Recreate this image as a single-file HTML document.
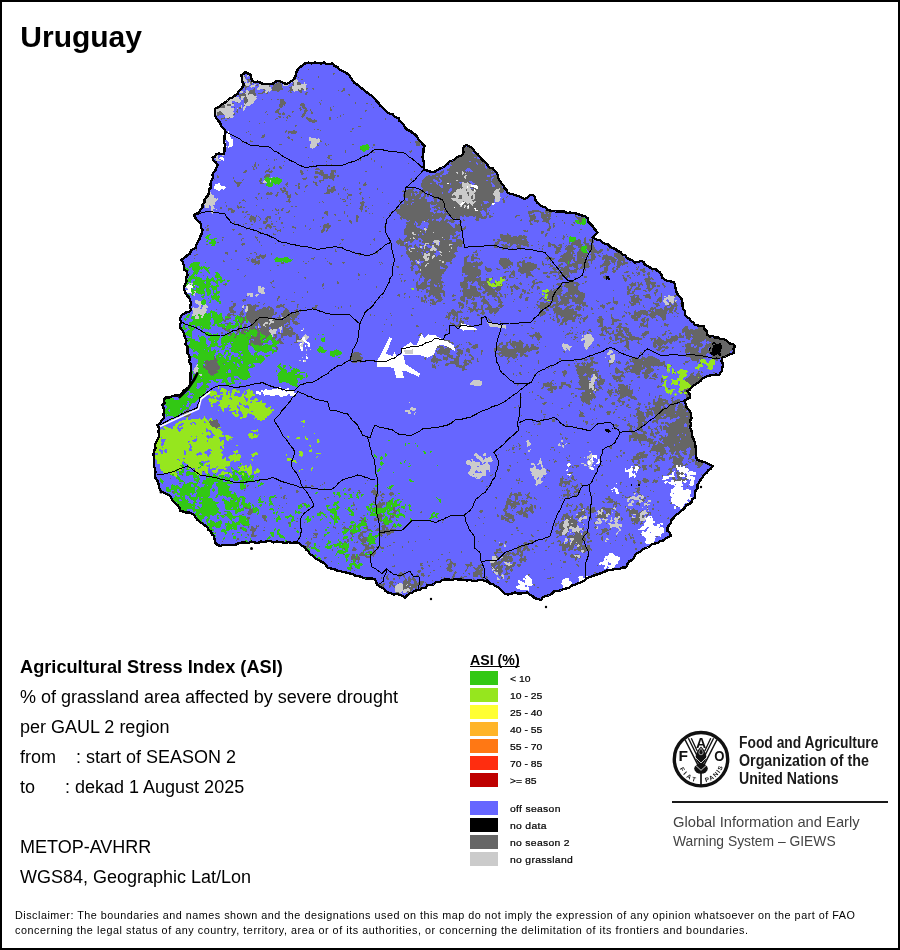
<!DOCTYPE html>
<html lang="en">
<head>
<meta charset="utf-8">
<title>Uruguay - Agricultural Stress Index (ASI)</title>
<style>
html,body{margin:0;padding:0;background:#fff;}
body{width:900px;height:950px;overflow:hidden;position:relative;font-family:"Liberation Sans",Arial,sans-serif;color:#000;}
#frame{position:absolute;left:0;top:0;width:896px;height:946px;border:2px solid #000;}
svg{position:absolute;left:0;top:0;}
.t{position:absolute;white-space:pre;line-height:1;}
.h1{left:20.3px;top:21.6px;font-size:30px;font-weight:bold;}
.ln{left:20px;font-size:18px;}
.lg{left:510px;font-size:8.5px;letter-spacing:.25px;transform-origin:0 0;transform:scaleX(1.22);color:#000;-webkit-text-stroke:.2px #000}
.lg.n{letter-spacing:0}
.sw{position:absolute;left:470px;width:28px;height:14px;}
.fao{left:739px;font-size:16.3px;font-weight:bold;color:#1a1a1a;transform-origin:0 0;transform:scaleX(.85);}
.gi{left:673px;font-size:15.5px;color:#444;transform-origin:0 0;transform:scaleX(.95);}
.dis{left:15px;font-size:10.8px;letter-spacing:.5px;}
</style>
</head>
<body>
<div id="frame"></div>
<svg width="900" height="950" viewBox="0 0 900 950">
<g shape-rendering="crispEdges">
<path d="M241 75L243.5 74L245 72L248 73.5L251 75L251 78L252.5 81L255 82L257.5 81.5L260 82.5L263 84L266.5 84L270 84L273 83.5L276 81.5L279 81L281.5 82L284 83L286 84L289 83L291.5 81L294 79L295.5 76L296 73L297.5 70L299.5 67.5L302.5 65.5L305 63.5L308.5 62.5L311.5 63.5L315 62.5L318 63L321 63.5L324 62.5L326.5 64L329.5 64L332.5 63.5L334.5 66L337.5 67L339.5 69.5L342 71L344.5 72L347 73.5L349.5 75.5L351 78L352.5 80.5L354.5 83L357 84.5L359.5 86.5L362 88.5L364.5 90.5L367 92.5L369.5 94.5L372 96L374.5 98.5L376.5 101L378.5 103L380 105.5L382.5 107.5L384.5 109.5L387 112L389.5 113.5L393 114.5L395 117L398.5 118L399.5 121L402 123L404 125.5L405.5 128L407.5 130L410.5 131L412.5 133L415 134.5L417 136.5L418.5 139.5L420.5 141.5L422.5 144L424.5 146L423.5 149L423.5 152L423 154.5L422.5 157.5L423.5 160.5L424 163.5L423.5 167L424 170L427 170.5L429.5 171.5L432.5 172L435 171.5L437.5 170L440 168.5L442.5 167.5L445 166L447.5 164L449.5 161.5L452.5 160.5L455 159L457.5 157L460 156L462.5 155L463.5 152L463 149L464 146L466.5 145L469 146L471.5 147.5L473.5 149.5L475 152L477.5 154L479.5 156.5L481 158.5L483.5 161L485.5 162.5L487.5 165L489.5 167.5L493 168.5L495 171L497 173L498 175.5L498.5 178.5L500 181L501.5 183.5L503.5 185.5L504.5 188L506.5 190L507.5 192.5L510.5 194L513.5 194.5L516.5 195.5L519.5 196.5L522 198L525 199L527.5 197.5L529.5 195.5L532.5 195L535 197L535.5 200.5L537.5 203L540 205L542.5 206.5L545 207L547 209.5L550 210.5L552.5 211L555.5 211.5L558.5 211.5L561.5 211.5L564 211.5L567 213L570 212.5L573 213L576 213.5L579 214.5L582 215.5L585 216L587.5 218L588 221.5L590.5 224L592.5 226L594 228.5L596 230.5L597.5 232.5L595 235L592.5 237.5L595 239L597.5 240L600.5 240.5L602.5 242.5L605 244L608 244.5L610 246.5L612.5 248L615.5 249L617.5 251L620.5 252L622.5 254.5L625.5 255.5L627 258L630 259.5L632.5 260.5L635 262.5L638 262L641 261L643.5 262L645 265L647.5 266L650 267.5L652.5 269L655.5 269L657.5 271L660 272.5L661.5 275L662.5 278L665 280L668 281L671 281.5L674 282.5L675 285L675.5 288L676 291L677.5 294L679.5 296.5L681.5 299L682.5 302.5L682.5 305.5L683 309L685 311.5L685 315L687 317L689.5 318.5L691 321L693.5 322.5L695 325L698 325.5L701 326L704 326L704.5 329L707 331.5L707.5 335L710 336.5L712.5 336L715 337.5L718 337.5L720.5 339L723.5 339L726 340L728 342L730 343.5L733 344L735 346L733.5 349L734 352.5L731.5 354L728 355L725.5 356.5L722.5 357.5L721.5 361L723 364L722.5 367.5L722 370.5L720.5 372.5L719 375L716 374.5L713 375L710.5 375.5L707.5 376L705 377L702.5 378.5L700.5 381L698.5 382.5L696 384L693.5 385.5L691.5 387.5L690 389.5L687.5 391L689.5 394L690 397.5L687 399L684 401L686 404L686.5 407.5L689 410L690.5 412.5L691 415L691.5 418L690 421L691 424.5L690 427.5L691.5 430.5L692 434L692.5 437L694 440L695 443L695.5 446.5L696 450L696 453.5L696 457L697.5 460L700.5 461L703.5 462L707 463L709.5 464.5L712.5 466L711 468.5L708 470.5L706.5 473L704 475L702.5 477.5L700.5 480L699 482.5L697.5 485L697.5 488L695.5 491L695 494.5L695 497.5L692.5 499L691.5 502L689.5 504L686.5 505L685 507.5L682.5 510L680 512L677.5 514L675 516L673.5 518L671.5 520L671 523L669 525L667.5 528L667.5 531L670 533L671 536L668 537L665.5 538.5L663 540.5L660 541L658 543L655 543.5L652 544L650 546L647.5 547.5L644.5 548.5L642 550L640 552L637 553L635 555L634 558L632 560L629 561.5L627.5 564L626 567.5L622.5 567.5L619.5 569L616.5 569L613 569.5L610 570L607 570.5L604 572L601.5 573L598.5 574L595.5 575L592.5 576L590 577L587 578L585 580L582.5 581.5L580 583L577.5 583.5L575 585L572 585.5L569.5 587.5L566.5 588.5L563.5 589L560.5 590.5L557.5 591L554 591.5L551.5 594L548.5 595.5L545 596L542.5 597.5L541 600L537.5 599L534.5 598L532.5 596L529.5 594.5L527.5 592.5L524.5 593L521 593.5L518 593.5L515 592.5L512 593.5L508.5 594.5L505 594L502.5 591.5L500 589L497.5 587L495 586L492.5 584L490 583.5L487.5 582L485 581L482 580L479 580L476 581L473 581L470 580L467 580.5L464 580L461 579.5L458 579.5L455 579L452 580L449 579.5L445.5 579.5L442.5 580L439.5 582L436 582L433.5 584.5L430 585L427 585.5L425.5 588L422 588L420 590L417.5 590L414.5 591L412.5 592.5L409.5 593.5L407 595.5L405 597.5L402.5 596L400 595L397 594L393.5 594.5L390.5 593L387.5 592.5L385 590.5L383 588L380 587L377.5 585L376 582L375 579L372 578.5L368.5 578.5L365.5 578.5L362.5 577.5L360 576.5L357.5 576L355 575.5L352.5 574L349.5 573.5L346 572.5L343 572L340 571L337 570.5L334 569L330.5 568.5L327.5 567.5L325.5 564.5L323 562.5L320 561L317.5 559.5L315 558L312.5 555.5L310 554L308.5 551.5L306.5 550L305 547.5L302.5 546L300 544L297.5 542.5L294.5 542.5L291.5 543L288.5 542L285.5 543L282.5 542.5L279.5 542L276.5 541.5L273.5 542.5L270.5 541L267.5 541L264.5 542L261 541.5L258 543L255 542.5L251.5 541.5L248.5 543L245 542.5L241.5 542.5L238 543.5L235 545L232 545L229 545L226 545L223 545L220 546L217 544.5L215 542.5L214.5 539L214 536L212 534.5L211 531.5L208.5 530L207.5 527.5L205 525.5L202.5 523.5L200 522L197.5 520L196 518L194.5 515.5L192.5 514L189.5 512.5L186 512.5L183 511.5L180 511L179.5 507.5L177.5 505L175 503L173 501L171.5 498.5L170 496L167 494L164 493L161 491L159 487.5L158.5 484L157.5 481L155.5 478L155 475L155.5 472L155 469L154 466.5L154 463.5L154 460.5L154 457.5L153.5 454.5L154 451L155.5 448L155 445L156 442.5L157 440L158.5 437.5L159 435L158.5 431.5L159 428L157.5 425L160 423L162 420L164 417.5L163.5 414.5L164 411L163.5 408L162.5 405L164.5 403L164 399.5L166 397.5L169 397.5L171.5 396.5L174.5 395.5L177 395.5L180 395L182 393L183.5 390.5L186 389L188.5 387.5L190 385L190 382L190.5 379L190.5 376L190.5 373L191 370L191 367L190.5 364L189 361.5L190 358.5L189 355.5L187.5 353L187.5 350L187.5 347L185.5 344L186.5 340.5L185 337.5L184 334.5L183 331L180.5 328.5L180 325L181 322L180 319L181 316L183.5 314L185.5 312.5L189 312L191 310L190 306.5L191 303.5L190 300L189 297.5L187 295.5L185.5 293L184.5 290.5L184 287.5L185 284.5L186.5 281.5L186 278L187.5 275L187 271.5L184 269.5L184 266L183 262.5L181 260L183.5 258.5L185.5 257L187.5 255L190 253.5L191 250.5L193.5 249L196 247.5L196.5 244.5L198 241.5L199.5 239L200.5 236L202 233L202.5 230L201 227.5L201 225L200 222.5L197.5 220.5L195.5 218L194 215L196.5 213.5L199 212L200.5 209.5L202.5 207.5L202.5 204.5L204.5 202.5L204.5 199.5L206 197.5L208 195.5L209 192.5L209 189.5L211 187.5L210.5 184.5L211 181L213 178L212.5 175L213.5 172.5L215.5 170L216.5 167.5L217.5 165L216 162.5L213.5 160.5L212.5 157.5L215 156.5L216 154L218.5 153.5L221.5 154L224 154L224.5 151L224.5 148L225 145L224 142L224.5 139L224.5 136L225 133L225 130L223 128L221 125.5L220 122.5L218 120.5L216.5 118.5L215 116L215 112.5L215 109L217.5 107.5L220 106L222.5 104L225 102.5L227.5 100.5L229.5 98.5L232.5 97.5L235 95.5L237.5 94L238.5 91.5L240.5 89.5L242.5 87L244 85L242.5 82L242 78.5Z" fill="#6666ff"/>
<g fill="none" stroke-width="1" transform="translate(0,0.5)">
<path stroke="#666666" d="M308 69h1M333 73h2M333 74h1M244 76h1M318 76h1M242 77h1M245 77h1M298 77h1M318 77h1M242 78h1M247 79h4M294 79h2M301 79h2M248 80h2M248 81h3M250 82h2M255 82h2M278 82h2M293 82h1M297 82h3M250 83h2M255 83h1M273 83h1M276 83h5M293 83h1M297 83h4M243 84h1M251 84h1M257 84h1M262 84h1M271 84h11M292 84h2M297 84h4M244 85h2M256 85h2M269 85h1M273 85h9M293 85h1M244 86h5M269 86h1M273 86h9M291 86h1M245 87h2M272 87h10M289 87h3M241 88h1M245 88h1M254 88h1M272 88h11M290 88h2M301 88h2M306 88h2M312 88h2M343 88h2M240 89h3M245 89h1M253 89h2M263 89h2M272 89h11M290 89h3M298 89h1M301 89h3M306 89h1M313 89h1M343 89h2M240 90h1M250 90h5M264 90h1M272 90h8M289 90h4M298 90h4M338 90h1M342 90h3M244 91h1M249 91h6M263 91h2M277 91h2M288 91h1M290 91h1M299 91h3M341 91h2M245 92h1M249 92h6M262 92h3M267 92h1M290 92h2M300 92h2M306 92h2M242 93h3M248 93h8M258 93h5M266 93h2M305 93h2M239 94h7M248 94h1M253 94h3M305 94h2M348 94h2M239 95h7M254 95h2M349 95h1M239 96h2M245 96h1M240 97h1M244 97h3M244 98h3M244 99h4M262 99h1M271 99h1M277 99h2M280 99h4M244 100h4M280 100h4M321 100h1M244 101h4M280 101h5M237 102h1M244 102h3M280 102h6M319 102h1M355 102h1M232 103h2M245 103h1M280 103h6M301 103h3M320 103h1M355 103h1M366 103h2M227 104h4M279 104h6M300 104h5M320 104h1M371 104h1M221 105h4M227 105h4M244 105h1M279 105h4M284 105h1M300 105h5M220 106h5M279 106h4M302 106h3M333 106h1M217 107h8M234 107h1M239 107h2M280 107h2M300 107h1M302 107h4M330 107h1M373 107h1M218 108h1M239 108h2M279 108h1M299 108h2M303 108h4M330 108h1M237 109h1M277 109h3M300 109h2M305 109h2M310 109h1M330 109h2M237 110h1M276 110h3M300 110h1M304 110h4M310 110h1M330 110h2M365 110h2M219 111h2M236 111h2M266 111h1M275 111h4M292 111h2M304 111h3M311 111h1M365 111h1M217 112h5M237 112h1M265 112h1M275 112h4M283 112h1M292 112h1M304 112h2M311 112h2M217 113h6M234 113h1M278 113h3M282 113h3M303 113h3M311 113h2M217 114h7M233 114h2M267 114h1M279 114h2M282 114h3M302 114h3M343 114h1M217 115h2M288 115h2M302 115h3M340 115h1M278 116h3M287 116h1M289 116h2M301 116h3M340 116h1M224 117h1M229 117h1M279 117h2M283 117h1M286 117h2M302 117h1M306 117h2M329 117h2M337 117h1M221 118h4M227 118h2M276 118h2M287 118h1M306 118h5M329 118h2M360 118h2M385 118h1M221 119h1M275 119h1M307 119h5M314 119h1M329 119h2M385 119h1M225 120h2M286 120h1M308 120h9M249 121h1M309 121h8M264 122h1M312 122h3M259 123h1M295 125h2M295 126h1M358 126h3M352 128h2M314 129h1M317 129h2M352 129h1M286 130h1M293 130h2M320 130h1M248 131h1M285 131h2M288 131h9M350 131h2M246 132h1M285 132h1M288 132h9M288 133h1M291 133h5M250 134h1M264 134h1M262 135h3M262 136h3M288 136h1M261 137h3M287 137h3M301 137h1M288 138h2M291 139h2M250 140h1M292 140h1M320 140h1M250 141h3M320 141h2M415 141h5M242 142h1M410 142h1M415 142h5M325 143h1M416 143h4M279 144h3M317 144h1M325 144h1M328 144h1M352 144h2M373 144h2M416 144h4M317 145h2M326 145h1M373 145h2M416 145h4M464 146h2M469 146h1M305 147h2M372 147h1M464 147h8M463 148h10M360 149h1M463 149h11M345 150h1M411 150h1M463 150h10M345 151h1M409 151h3M463 151h10M345 152h1M373 152h2M410 152h1M463 152h9M463 153h10M462 154h14M328 155h4M462 155h15M328 156h2M460 156h18M308 157h1M327 157h3M458 157h16M476 157h1M328 158h2M371 158h1M456 158h21M480 158h1M266 159h1M274 159h1M276 159h1M330 159h2M360 159h1M371 159h1M455 159h27M274 160h1M358 160h1M360 160h1M374 160h1M453 160h30M284 161h1M312 161h1M326 161h1M374 161h1M452 161h17M471 161h13M255 162h1M451 162h25M477 162h8M255 163h1M408 163h1M450 163h26M478 163h3M482 163h5M254 164h2M258 164h1M326 164h1M331 164h1M451 164h26M478 164h7M486 164h1M254 165h2M258 165h1M268 165h1M283 165h1M313 165h1M332 165h1M452 165h33M252 166h1M254 166h2M274 166h1M279 166h2M311 166h2M381 166h1M450 166h35M487 166h2M253 167h1M256 167h1M273 167h2M279 167h3M311 167h1M381 167h1M450 167h35M487 167h2M253 168h1M256 168h1M269 168h1M273 168h2M280 168h2M316 168h3M449 168h18M470 168h16M487 168h2M253 169h2M268 169h2M315 169h5M447 169h19M471 169h21M245 170h2M266 170h3M271 170h1M300 170h2M307 170h1M320 170h3M331 170h5M443 170h1M447 170h18M472 170h21M244 171h3M265 171h8M300 171h3M315 171h3M320 171h3M331 171h5M365 171h2M414 171h1M441 171h3M449 171h13M463 171h3M467 171h1M469 171h1M473 171h18M492 171h1M243 172h3M265 172h1M269 172h3M300 172h3M315 172h9M331 172h3M335 172h1M440 172h4M448 172h8M458 172h4M464 172h31M301 173h3M315 173h9M330 173h4M436 173h7M448 173h9M458 173h4M464 173h1M466 173h28M266 174h4M301 174h2M319 174h9M330 174h4M435 174h7M446 174h16M463 174h28M217 175h1M265 175h5M321 175h7M330 175h6M337 175h2M428 175h2M432 175h8M442 175h23M467 175h20M490 175h1M493 175h5M217 176h2M264 176h6M314 176h4M323 176h12M337 176h2M426 176h10M438 176h2M442 176h22M466 176h21M490 176h7M217 177h2M233 177h1M264 177h2M306 177h1M314 177h4M323 177h12M425 177h39M466 177h26M494 177h5M233 178h1M260 178h2M302 178h5M315 178h1M323 178h5M329 178h5M411 178h1M424 178h15M440 178h25M466 178h25M493 178h6M214 179h1M243 179h1M260 179h2M303 179h3M323 179h1M332 179h2M410 179h2M423 179h10M435 179h4M441 179h50M492 179h8M234 180h1M242 180h1M259 180h3M319 180h5M333 180h1M411 180h1M422 180h11M437 180h3M442 180h14M458 180h28M488 180h3M492 180h7M234 181h2M259 181h2M313 181h1M319 181h2M422 181h12M438 181h2M442 181h27M472 181h27M235 182h7M260 182h2M287 182h1M313 182h4M320 182h1M359 182h1M365 182h1M422 182h14M441 182h18M464 182h3M468 182h2M473 182h18M492 182h8M236 183h5M260 183h4M286 183h2M298 183h2M315 183h2M359 183h1M364 183h2M421 183h9M432 183h4M438 183h9M449 183h1M451 183h9M461 183h1M469 183h2M475 183h16M493 183h8M237 184h3M285 184h3M298 184h2M315 184h2M363 184h4M421 184h16M438 184h1M440 184h10M451 184h11M474 184h18M494 184h7M237 185h3M286 185h1M295 185h2M298 185h1M306 185h2M316 185h2M328 185h2M363 185h3M421 185h18M443 185h19M477 185h15M495 185h7M237 186h2M287 186h1M298 186h2M305 186h2M328 186h2M333 186h2M421 186h19M443 186h19M478 186h14M495 186h7M283 187h2M298 187h2M305 187h1M327 187h1M331 187h4M344 187h1M422 187h19M443 187h20M470 187h4M478 187h24M280 188h2M283 188h3M298 188h2M327 188h1M331 188h4M343 188h1M359 188h2M377 188h1M412 188h2M423 188h27M452 188h8M461 188h1M473 188h3M478 188h21M500 188h3M280 189h2M284 189h2M327 189h9M343 189h1M345 189h1M347 189h1M359 189h2M377 189h1M408 189h6M422 189h27M452 189h5M466 189h1M471 189h3M475 189h21M500 189h4M281 190h5M327 190h9M345 190h1M403 190h1M405 190h8M420 190h1M422 190h27M452 190h4M466 190h1M472 190h2M476 190h19M499 190h5M282 191h6M304 191h1M327 191h7M402 191h12M415 191h2M419 191h7M428 191h20M451 191h5M476 191h18M499 191h5M267 192h2M270 192h2M277 192h2M282 192h2M286 192h2M295 192h1M326 192h4M331 192h2M360 192h2M382 192h1M404 192h14M419 192h6M428 192h14M443 192h5M450 192h4M467 192h2M475 192h19M500 192h3M258 193h2M266 193h7M277 193h1M285 193h3M295 193h2M324 193h6M338 193h1M347 193h1M359 193h2M404 193h7M412 193h2M416 193h1M419 193h3M424 193h2M428 193h2M432 193h10M443 193h10M467 193h2M474 193h19M258 194h1M266 194h6M276 194h2M286 194h2M290 194h1M296 194h2M338 194h1M348 194h4M360 194h1M403 194h8M412 194h3M417 194h4M424 194h2M428 194h2M432 194h20M468 194h1M475 194h18M275 195h3M287 195h4M348 195h4M403 195h8M412 195h3M416 195h5M424 195h2M427 195h2M432 195h20M453 195h2M459 195h3M468 195h1M472 195h1M475 195h19M532 195h1M276 196h1M287 196h4M347 196h1M403 196h18M423 196h3M427 196h2M433 196h23M459 196h3M471 196h2M475 196h20M507 196h1M515 196h1M528 196h1M255 197h2M261 197h1M287 197h4M347 197h1M362 197h1M369 197h1M405 197h15M421 197h4M433 197h23M459 197h3M471 197h2M475 197h20M506 197h1M527 197h2M256 198h1M261 198h1M267 198h1M289 198h1M340 198h1M347 198h1M362 198h2M408 198h11M421 198h4M433 198h18M458 198h4M471 198h2M475 198h20M503 198h1M243 199h1M257 199h1M288 199h2M342 199h3M350 199h1M362 199h1M408 199h4M414 199h13M434 199h3M439 199h13M474 199h20M502 199h2M242 200h3M288 200h2M345 200h1M399 200h1M404 200h2M408 200h19M434 200h3M440 200h13M472 200h22M503 200h2M245 201h1M286 201h5M322 201h1M343 201h3M362 201h2M399 201h1M404 201h23M431 201h2M434 201h3M439 201h17M463 201h1M473 201h1M476 201h7M488 201h6M503 201h2M225 202h1M239 202h2M289 202h1M319 202h1M323 202h1M360 202h5M404 202h8M414 202h43M465 202h1M475 202h9M489 202h5M503 202h2M239 203h1M350 203h1M360 203h4M388 203h1M404 203h7M412 203h46M464 203h3M469 203h1M474 203h10M487 203h5M361 204h3M401 204h6M408 204h3M412 204h18M431 204h5M437 204h22M463 204h8M473 204h8M482 204h9M226 205h1M237 205h1M256 205h1M346 205h2M361 205h3M372 205h1M400 205h30M436 205h24M462 205h2M466 205h2M469 205h3M473 205h8M482 205h9M226 206h1M237 206h2M240 206h2M291 206h2M295 206h2M360 206h3M365 206h2M400 206h30M434 206h26M462 206h2M466 206h1M469 206h21M527 206h1M220 207h2M237 207h5M243 207h2M360 207h3M365 207h1M400 207h30M432 207h6M440 207h4M445 207h9M455 207h9M465 207h2M469 207h20M220 208h2M228 208h4M238 208h1M275 208h1M282 208h2M359 208h4M368 208h1M400 208h31M434 208h1M436 208h3M440 208h4M445 208h22M469 208h5M476 208h6M483 208h4M546 208h1M228 209h5M262 209h2M275 209h2M278 209h1M281 209h2M360 209h3M396 209h35M437 209h38M476 209h11M228 210h1M231 210h4M263 210h1M272 210h1M276 210h3M281 210h2M289 210h1M361 210h1M365 210h2M395 210h35M434 210h4M440 210h3M444 210h31M478 210h4M484 210h3M489 210h1M532 210h7M545 210h3M231 211h4M242 211h2M246 211h2M288 211h2M325 211h3M344 211h1M361 211h1M365 211h2M396 211h34M434 211h3M444 211h2M447 211h33M485 211h2M528 211h13M545 211h5M231 212h3M242 212h2M245 212h2M278 212h1M286 212h3M324 212h4M344 212h1M397 212h36M436 212h1M441 212h1M445 212h1M447 212h34M486 212h1M488 212h1M528 212h6M540 212h4M545 212h7M278 213h1M324 213h4M344 213h1M369 213h1M372 213h1M389 213h1M397 213h37M435 213h8M444 213h37M486 213h3M493 213h1M528 213h4M541 213h3M546 213h2M549 213h2M247 214h3M275 214h2M326 214h2M334 214h2M399 214h83M486 214h3M529 214h1M533 214h2M541 214h10M251 215h1M256 215h1M327 215h1M335 215h1M347 215h1M356 215h2M400 215h32M433 215h13M448 215h16M465 215h17M486 215h1M489 215h2M516 215h4M529 215h6M541 215h10M575 215h1M245 216h1M250 216h4M256 216h1M258 216h1M267 216h4M294 216h1M347 216h1M356 216h3M401 216h45M450 216h10M462 216h2M466 216h3M473 216h2M476 216h7M484 216h3M489 216h4M515 216h2M529 216h7M541 216h10M556 216h1M575 216h2M244 217h1M250 217h6M259 217h1M266 217h5M279 217h2M322 217h2M356 217h3M383 217h1M400 217h40M441 217h4M452 217h8M476 217h11M489 217h2M515 217h1M530 217h6M541 217h6M548 217h2M576 217h8M249 218h7M260 218h1M265 218h3M269 218h2M279 218h1M322 218h1M356 218h2M400 218h2M403 218h36M442 218h3M452 218h3M456 218h4M476 218h3M481 218h5M530 218h6M542 218h9M577 218h6M585 218h1M249 219h7M260 219h1M265 219h3M279 219h1M313 219h1M356 219h2M394 219h1M401 219h1M406 219h22M429 219h3M434 219h2M442 219h2M446 219h2M450 219h4M457 219h2M463 219h1M475 219h4M521 219h1M530 219h5M543 219h7M578 219h4M250 220h2M253 220h3M259 220h1M266 220h2M313 220h1M338 220h3M349 220h2M356 220h2M407 220h2M410 220h17M428 220h4M433 220h3M441 220h3M445 220h9M463 220h2M476 220h3M520 220h2M529 220h4M534 220h5M543 220h6M562 220h1M579 220h3M234 221h1M250 221h2M254 221h2M263 221h5M271 221h1M276 221h1M349 221h3M356 221h2M409 221h6M416 221h6M425 221h14M440 221h8M449 221h6M459 221h3M529 221h2M534 221h5M542 221h7M579 221h3M234 222h1M254 222h1M263 222h4M281 222h2M350 222h2M406 222h9M417 222h5M428 222h19M451 222h3M460 222h2M530 222h1M537 222h1M546 222h3M564 222h1M573 222h2M579 222h2M234 223h1M245 223h2M263 223h3M271 223h2M281 223h2M327 223h2M351 223h1M406 223h8M415 223h1M418 223h3M429 223h20M530 223h2M548 223h2M553 223h2M564 223h1M574 223h1M243 224h1M251 224h2M267 224h3M271 224h2M324 224h5M407 224h7M415 224h1M418 224h3M429 224h21M455 224h2M458 224h2M530 224h3M549 224h1M553 224h1M571 224h2M207 225h2M266 225h5M305 225h1M323 225h8M406 225h10M417 225h3M428 225h23M455 225h6M549 225h1M553 225h2M572 225h2M207 226h1M266 226h6M273 226h3M292 226h2M305 226h1M320 226h1M323 226h8M384 226h2M406 226h10M428 226h24M455 226h6M465 226h1M549 226h2M553 226h2M205 227h1M249 227h2M265 227h2M269 227h3M283 227h1M292 227h4M323 227h7M384 227h2M406 227h11M424 227h1M428 227h25M455 227h6M464 227h2M549 227h2M553 227h1M207 228h2M246 228h1M249 228h1M259 228h3M265 228h2M270 228h1M275 228h1M295 228h1M310 228h1M323 228h2M327 228h2M405 228h15M427 228h39M548 228h3M206 229h3M232 229h3M246 229h1M261 229h1M275 229h2M280 229h1M309 229h1M322 229h3M327 229h1M404 229h18M427 229h38M547 229h3M580 229h2M206 230h3M233 230h1M277 230h4M321 230h4M326 230h2M404 230h21M426 230h34M523 230h3M527 230h1M547 230h3M277 231h1M280 231h1M321 231h3M326 231h1M379 231h2M404 231h16M421 231h4M426 231h30M458 231h3M524 231h4M541 231h3M258 232h1M262 232h1M293 232h1M321 232h2M404 232h8M414 232h11M426 232h7M434 232h21M541 232h3M579 232h1M239 233h2M258 233h1M273 233h1M404 233h8M414 233h8M423 233h33M507 233h1M541 233h2M546 233h2M238 234h4M273 234h3M404 234h9M416 234h2M419 234h3M424 234h32M459 234h1M500 234h3M507 234h2M545 234h2M566 234h1M407 235h11M419 235h31M452 235h2M457 235h3M500 235h11M519 235h3M523 235h2M545 235h2M563 235h1M255 236h1M407 236h43M453 236h1M456 236h2M500 236h11M513 236h4M518 236h9M545 236h1M563 236h2M567 236h1M222 237h2M255 237h3M406 237h7M414 237h28M443 237h7M452 237h6M500 237h27M555 237h1M563 237h2M585 237h1M242 238h2M256 238h1M374 238h1M399 238h1M405 238h5M411 238h2M415 238h3M421 238h29M452 238h5M501 238h25M562 238h2M584 238h2M222 239h1M241 239h1M257 239h1M341 239h3M373 239h2M399 239h2M404 239h11M416 239h2M422 239h22M445 239h4M456 239h5M493 239h2M497 239h3M501 239h21M524 239h3M563 239h1M578 239h2M584 239h2M589 239h3M222 240h1M241 240h1M257 240h1M342 240h1M374 240h1M397 240h5M404 240h10M419 240h2M423 240h11M439 240h13M456 240h6M493 240h2M498 240h29M575 240h6M584 240h2M589 240h5M259 241h1M396 241h12M410 241h3M419 241h2M422 241h11M440 241h12M456 241h8M497 241h3M503 241h25M538 241h1M574 241h7M584 241h2M590 241h4M217 242h2M259 242h1M396 242h8M410 242h2M422 242h11M440 242h24M495 242h4M507 242h22M548 242h2M569 242h1M572 242h9M583 242h3M591 242h3M242 243h3M275 243h1M340 243h1M397 243h7M406 243h2M424 243h1M429 243h3M434 243h2M440 243h24M495 243h4M507 243h2M510 243h18M548 243h3M563 243h1M569 243h1M571 243h10M584 243h5M591 243h2M206 244h2M241 244h4M339 244h1M370 244h1M398 244h1M400 244h4M405 244h3M415 244h1M419 244h2M426 244h2M429 244h7M440 244h9M453 244h9M494 244h4M501 244h3M505 244h2M510 244h3M516 244h2M519 244h10M538 244h1M548 244h7M559 244h3M571 244h12M585 244h4M591 244h2M242 245h1M261 245h1M283 245h2M400 245h8M409 245h3M414 245h2M419 245h5M430 245h2M434 245h4M439 245h10M450 245h12M494 245h2M502 245h6M510 245h2M517 245h4M523 245h6M531 245h2M543 245h1M548 245h3M552 245h4M558 245h4M566 245h1M568 245h5M576 245h6M586 245h8M405 246h7M414 246h3M425 246h2M434 246h24M459 246h3M494 246h3M503 246h8M516 246h5M527 246h2M542 246h1M548 246h3M554 246h3M560 246h2M565 246h1M567 246h6M578 246h4M587 246h7M406 247h3M414 247h4M419 247h1M423 247h1M425 247h3M435 247h16M452 247h5M494 247h4M502 247h6M509 247h1M517 247h4M554 247h8M566 247h8M578 247h3M587 247h8M611 247h1M406 248h2M410 248h1M415 248h6M423 248h1M425 248h6M437 248h14M452 248h5M502 248h4M512 248h1M519 248h2M539 248h1M542 248h1M556 248h5M565 248h11M580 248h1M587 248h8M607 248h1M609 248h2M196 249h1M335 249h1M406 249h2M410 249h20M437 249h20M502 249h2M520 249h1M542 249h1M556 249h5M565 249h10M579 249h2M587 249h9M600 249h3M607 249h2M196 250h1M235 250h2M335 250h1M377 250h1M407 250h2M410 250h13M424 250h6M433 250h1M437 250h20M476 250h1M480 250h1M556 250h4M567 250h6M579 250h2M588 250h9M599 250h4M607 250h2M235 251h2M335 251h2M353 251h1M376 251h2M406 251h4M412 251h5M418 251h8M429 251h7M441 251h8M450 251h8M475 251h2M555 251h6M567 251h7M578 251h4M591 251h11M225 252h3M254 252h2M376 252h2M406 252h15M423 252h3M428 252h8M442 252h13M473 252h4M555 252h4M566 252h5M572 252h2M577 252h6M591 252h10M617 252h4M225 253h3M250 253h2M256 253h1M271 253h1M358 253h2M375 253h1M377 253h1M406 253h16M423 253h1M426 253h2M430 253h4M440 253h14M477 253h1M555 253h3M564 253h7M572 253h3M577 253h11M591 253h3M597 253h2M602 253h1M614 253h8M196 254h2M227 254h1M256 254h1M260 254h1M265 254h1M271 254h1M358 254h2M407 254h15M423 254h1M430 254h5M441 254h14M472 254h2M475 254h3M563 254h10M577 254h10M590 254h5M606 254h1M614 254h7M194 255h2M259 255h7M359 255h1M401 255h2M408 255h16M430 255h3M435 255h1M438 255h3M442 255h14M468 255h1M472 255h2M476 255h2M561 255h12M574 255h2M577 255h11M591 255h4M598 255h2M603 255h5M614 255h8M623 255h1M256 256h10M401 256h1M408 256h15M427 256h5M435 256h1M437 256h19M466 256h3M471 256h3M530 256h1M547 256h1M560 256h13M577 256h12M591 256h5M599 256h2M603 256h9M614 256h9M249 257h1M256 257h4M261 257h4M314 257h1M409 257h14M427 257h1M429 257h3M434 257h21M464 257h4M471 257h6M525 257h2M529 257h3M546 257h6M562 257h13M577 257h5M583 257h3M588 257h1M591 257h5M602 257h12M616 257h8M194 258h1M246 258h2M252 258h1M255 258h1M257 258h3M262 258h2M311 258h3M325 258h1M410 258h14M429 258h3M433 258h20M464 258h3M471 258h9M500 258h7M508 258h1M522 258h1M529 258h2M545 258h10M560 258h15M577 258h8M591 258h4M602 258h13M617 258h8M231 259h1M248 259h1M251 259h5M313 259h1M410 259h9M420 259h5M429 259h23M464 259h3M471 259h3M479 259h1M500 259h9M547 259h2M550 259h4M559 259h13M573 259h2M577 259h8M588 259h7M602 259h2M605 259h12M618 259h7M223 260h1M247 260h2M251 260h5M258 260h2M410 260h1M412 260h3M417 260h2M420 260h5M428 260h11M441 260h11M464 260h3M471 260h3M499 260h11M523 260h2M547 260h1M550 260h1M558 260h13M573 260h2M577 260h16M605 260h4M611 260h5M618 260h7M223 261h2M251 261h9M303 261h1M308 261h1M327 261h1M413 261h2M424 261h18M444 261h7M464 261h3M476 261h1M481 261h1M499 261h12M519 261h2M522 261h3M542 261h1M550 261h1M558 261h10M569 261h2M574 261h14M591 261h1M604 261h6M611 261h5M617 261h4M623 261h2M252 262h8M282 262h2M329 262h1M342 262h3M379 262h1M381 262h1M411 262h5M423 262h19M444 262h2M450 262h2M464 262h7M473 262h5M479 262h4M499 262h14M517 262h8M527 262h4M542 262h1M565 262h3M569 262h1M575 262h13M591 262h1M604 262h6M612 262h3M617 262h5M623 262h5M630 262h1M255 263h5M281 263h3M305 263h2M329 263h3M343 263h1M382 263h1M411 263h5M421 263h6M429 263h17M450 263h2M464 263h19M499 263h14M517 263h2M522 263h12M542 263h2M550 263h1M561 263h2M566 263h2M569 263h1M572 263h17M591 263h1M603 263h8M614 263h1M617 263h11M254 264h2M258 264h1M330 264h2M380 264h1M391 264h1M411 264h8M421 264h5M427 264h18M464 264h18M500 264h13M517 264h2M522 264h15M542 264h2M545 264h2M548 264h3M559 264h4M567 264h11M582 264h7M602 264h8M614 264h1M617 264h8M636 264h1M643 264h1M277 265h2M412 265h2M417 265h3M421 265h4M427 265h20M464 265h17M501 265h9M512 265h1M517 265h3M522 265h15M543 265h1M550 265h3M558 265h3M567 265h11M582 265h7M600 265h9M617 265h4M622 265h1M396 266h3M411 266h2M418 266h7M426 266h14M441 266h7M463 266h10M475 266h3M485 266h1M502 266h6M510 266h1M517 266h4M522 266h15M550 266h3M558 266h2M565 266h7M573 266h5M581 266h9M600 266h3M606 266h2M616 266h4M627 266h1M638 266h1M397 267h2M410 267h3M418 267h22M443 267h5M462 267h16M485 267h2M503 267h5M510 267h1M519 267h18M549 267h1M553 267h2M559 267h4M564 267h5M574 267h4M580 267h9M595 267h1M600 267h1M604 267h4M613 267h2M617 267h3M636 267h1M638 267h1M411 268h3M419 268h21M445 268h2M462 268h16M485 268h6M496 268h2M503 268h3M508 268h1M519 268h17M537 268h3M552 268h4M561 268h8M576 268h3M580 268h3M595 268h1M604 268h4M612 268h2M616 268h2M637 268h1M643 268h2M237 269h2M411 269h2M419 269h1M421 269h25M462 269h18M485 269h7M497 269h3M518 269h16M538 269h2M553 269h5M560 269h10M574 269h4M579 269h1M584 269h2M604 269h4M612 269h2M616 269h2M636 269h2M640 269h5M652 269h2M270 270h1M411 270h2M418 270h2M421 270h25M462 270h19M486 270h6M513 270h1M518 270h15M554 270h2M559 270h18M585 270h1M604 270h4M613 270h3M640 270h5M652 270h1M415 271h30M462 271h19M487 271h4M505 271h4M510 271h1M512 271h3M518 271h12M550 271h7M558 271h3M563 271h14M602 271h5M612 271h4M626 271h3M642 271h4M652 271h1M298 272h1M415 272h29M462 272h19M504 272h2M511 272h4M520 272h11M543 272h5M550 272h11M562 272h7M570 272h7M600 272h7M613 272h2M624 272h4M632 272h1M636 272h1M638 272h2M643 272h2M648 272h2M358 273h1M415 273h3M421 273h23M465 273h16M511 273h4M521 273h3M526 273h5M543 273h4M549 273h3M558 273h2M562 273h7M571 273h1M600 273h4M632 273h2M637 273h3M647 273h3M358 274h2M365 274h1M399 274h1M401 274h2M416 274h1M421 274h21M462 274h1M465 274h16M486 274h1M510 274h5M526 274h6M558 274h1M561 274h8M600 274h1M638 274h2M643 274h2M647 274h3M203 275h1M245 275h1M358 275h2M420 275h22M462 275h1M468 275h12M509 275h2M513 275h2M520 275h1M526 275h7M547 275h1M553 275h3M559 275h7M567 275h3M605 275h1M622 275h2M627 275h3M634 275h1M637 275h1M643 275h2M648 275h1M244 276h1M420 276h2M423 276h18M467 276h10M478 276h1M503 276h3M509 276h2M514 276h1M526 276h2M532 276h2M546 276h4M555 276h1M559 276h4M566 276h4M584 276h3M603 276h3M623 276h1M627 276h2M648 276h2M215 277h1M304 277h2M420 277h2M424 277h18M464 277h12M479 277h2M492 277h1M502 277h4M509 277h5M526 277h2M547 277h3M559 277h3M566 277h2M569 277h1M574 277h1M584 277h3M603 277h3M623 277h2M629 277h2M648 277h2M651 277h1M305 278h1M400 278h1M419 278h1M425 278h17M464 278h17M486 278h3M492 278h1M502 278h2M505 278h1M516 278h2M558 278h5M604 278h2M623 278h4M630 278h1M645 278h8M358 279h1M413 279h1M419 279h1M424 279h5M431 279h10M464 279h17M486 279h3M507 279h1M535 279h2M556 279h2M560 279h3M624 279h3M644 279h7M652 279h2M663 279h1M273 280h1M401 280h1M404 280h2M413 280h1M419 280h1M424 280h4M431 280h10M464 280h17M486 280h3M506 280h2M533 280h2M624 280h3M645 280h5M272 281h2M337 281h1M401 281h1M404 281h1M417 281h1M424 281h3M430 281h13M463 281h5M469 281h2M472 281h3M477 281h10M489 281h1M497 281h1M532 281h3M539 281h3M570 281h4M585 281h2M625 281h1M645 281h6M270 282h2M337 282h2M416 282h2M422 282h5M428 282h16M460 282h7M472 282h2M478 282h9M520 282h1M532 282h3M536 282h7M562 282h4M568 282h10M585 282h1M632 282h1M635 282h1M637 282h2M641 282h1M646 282h10M271 283h1M323 283h1M337 283h2M416 283h2M421 283h6M430 283h8M439 283h3M460 283h8M471 283h2M478 283h10M494 283h2M506 283h1M519 283h3M533 283h5M557 283h6M565 283h14M582 283h2M631 283h5M638 283h1M640 283h2M646 283h10M662 283h2M223 284h3M322 284h2M416 284h2M420 284h7M430 284h4M435 284h7M460 284h8M478 284h5M484 284h4M495 284h1M500 284h1M502 284h1M508 284h1M514 284h1M520 284h2M528 284h1M533 284h2M556 284h6M565 284h9M576 284h4M629 284h7M638 284h5M646 284h4M651 284h4M662 284h2M225 285h1M322 285h2M416 285h18M437 285h2M440 285h3M444 285h1M460 285h8M470 285h2M479 285h10M502 285h1M513 285h3M532 285h2M553 285h1M558 285h4M564 285h10M576 285h3M630 285h6M638 285h2M642 285h1M647 285h3M652 285h4M657 285h3M663 285h2M272 286h1M322 286h1M376 286h1M416 286h19M437 286h2M440 286h3M461 286h7M470 286h6M480 286h1M482 286h9M497 286h5M507 286h1M510 286h8M531 286h3M537 286h2M553 286h1M561 286h2M564 286h14M627 286h2M631 286h2M638 286h2M647 286h3M652 286h4M657 286h3M664 286h2M273 287h2M376 287h1M416 287h11M430 287h13M461 287h7M470 287h6M480 287h1M483 287h9M496 287h5M507 287h1M510 287h3M514 287h5M531 287h2M537 287h3M561 287h1M566 287h12M627 287h2M631 287h1M636 287h3M647 287h3M652 287h2M664 287h1M323 288h1M417 288h9M430 288h12M463 288h4M470 288h7M478 288h3M484 288h9M495 288h6M511 288h1M515 288h5M532 288h1M537 288h3M553 288h1M556 288h6M568 288h10M627 288h2M630 288h2M635 288h6M646 288h7M417 289h2M422 289h2M426 289h2M430 289h12M463 289h14M478 289h4M485 289h16M511 289h2M516 289h2M522 289h2M529 289h1M537 289h1M551 289h1M554 289h8M568 289h10M627 289h4M634 289h7M648 289h4M656 289h2M417 290h2M426 290h18M460 290h1M462 290h15M485 290h10M496 290h4M511 290h2M522 290h4M529 290h1M550 290h2M553 290h10M568 290h11M613 290h1M628 290h3M634 290h1M643 290h3M648 290h3M655 290h3M307 291h1M421 291h1M426 291h19M460 291h1M462 291h16M483 291h12M497 291h1M511 291h2M522 291h4M549 291h13M568 291h12M627 291h3M632 291h3M645 291h2M649 291h1M656 291h2M294 292h1M307 292h1M426 292h2M429 292h16M463 292h17M482 292h4M488 292h9M499 292h1M524 292h2M527 292h2M531 292h2M547 292h14M566 292h17M627 292h3M632 292h2M654 292h3M404 293h2M429 293h11M443 293h2M463 293h18M483 293h2M487 293h11M499 293h2M511 293h2M521 293h1M524 293h1M527 293h3M539 293h1M546 293h16M565 293h20M627 293h7M654 293h2M661 293h1M398 294h2M404 294h1M429 294h12M443 294h2M453 294h1M463 294h18M487 294h10M500 294h2M504 294h2M507 294h1M511 294h1M520 294h3M548 294h13M563 294h12M576 294h9M627 294h2M634 294h1M646 294h4M655 294h1M661 294h1M397 295h3M424 295h2M428 295h3M433 295h8M443 295h2M452 295h4M463 295h18M487 295h2M492 295h5M500 295h2M505 295h1M520 295h2M548 295h9M559 295h2M563 295h7M572 295h2M578 295h7M633 295h6M643 295h7M655 295h1M661 295h1M674 295h3M246 296h1M278 296h2M399 296h1M409 296h1M416 296h1M418 296h1M424 296h2M428 296h2M433 296h1M435 296h6M444 296h1M452 296h2M461 296h11M473 296h6M480 296h5M492 296h7M500 296h3M505 296h1M519 296h3M548 296h9M560 296h5M567 296h4M572 296h3M578 296h7M630 296h5M637 296h2M645 296h6M661 296h1M674 296h2M278 297h2M302 297h1M382 297h1M404 297h1M409 297h1M418 297h1M421 297h2M424 297h3M435 297h7M460 297h5M467 297h5M473 297h1M480 297h2M483 297h2M494 297h1M497 297h3M505 297h1M519 297h3M526 297h3M541 297h2M548 297h10M560 297h16M577 297h8M613 297h1M631 297h4M636 297h3M645 297h6M659 297h3M679 297h2M277 298h2M421 298h2M425 298h2M436 298h6M460 298h5M467 298h4M472 298h3M483 298h2M498 298h2M520 298h1M525 298h3M540 298h2M543 298h1M547 298h11M560 298h24M613 298h1M631 298h9M649 298h2M658 298h4M243 299h3M277 299h1M286 299h1M421 299h2M425 299h1M430 299h4M438 299h5M453 299h3M460 299h5M471 299h4M482 299h4M488 299h1M494 299h2M498 299h3M514 299h1M525 299h3M539 299h2M544 299h4M549 299h9M561 299h8M572 299h12M613 299h1M631 299h11M657 299h5M242 300h4M277 300h1M421 300h5M428 300h1M430 300h4M437 300h5M452 300h3M461 300h4M466 300h2M473 300h1M481 300h6M495 300h2M498 300h3M525 300h3M544 300h3M552 300h6M561 300h8M572 300h11M596 300h1M613 300h1M631 300h8M640 300h2M657 300h5M231 301h2M243 301h1M291 301h4M371 301h1M421 301h4M426 301h1M432 301h3M436 301h5M463 301h2M466 301h2M481 301h7M498 301h4M513 301h1M537 301h2M548 301h3M552 301h7M560 301h9M572 301h11M597 301h2M613 301h5M629 301h1M631 301h8M656 301h2M659 301h3M674 301h1M258 302h2M424 302h1M426 302h1M430 302h1M432 302h5M458 302h3M466 302h2M472 302h5M483 302h6M498 302h5M537 302h1M540 302h4M546 302h2M550 302h3M556 302h2M559 302h11M575 302h11M608 302h3M613 302h5M629 302h2M633 302h7M653 302h1M660 302h1M669 302h2M674 302h2M233 303h3M264 303h1M430 303h6M443 303h2M458 303h5M466 303h2M471 303h6M483 303h6M500 303h2M540 303h12M556 303h13M575 303h11M606 303h4M614 303h4M630 303h6M639 303h1M653 303h6M669 303h2M674 303h3M680 303h1M233 304h3M247 304h4M255 304h1M263 304h1M280 304h2M283 304h2M297 304h2M432 304h4M459 304h5M466 304h1M473 304h4M483 304h1M487 304h3M499 304h3M536 304h2M540 304h11M553 304h10M564 304h3M579 304h2M582 304h4M602 304h1M607 304h1M616 304h1M624 304h1M631 304h5M639 304h1M655 304h4M669 304h3M674 304h3M233 305h3M244 305h2M247 305h5M253 305h6M277 305h7M297 305h1M315 305h3M350 305h1M430 305h1M459 305h5M474 305h3M481 305h2M488 305h3M498 305h6M537 305h14M552 305h7M564 305h3M570 305h4M577 305h1M579 305h1M582 305h6M600 305h5M624 305h1M631 305h3M643 305h1M656 305h4M667 305h3M671 305h7M231 306h4M248 306h11M268 306h2M276 306h8M297 306h1M315 306h2M335 306h1M341 306h1M350 306h1M459 306h1M462 306h2M466 306h1M473 306h4M481 306h2M488 306h4M498 306h5M538 306h16M555 306h3M567 306h5M576 306h5M583 306h1M586 306h2M600 306h5M628 306h1M643 306h1M656 306h2M665 306h2M671 306h6M229 307h5M248 307h8M263 307h3M267 307h5M276 307h4M283 307h2M297 307h1M305 307h1M312 307h5M338 307h1M341 307h1M459 307h1M461 307h3M468 307h2M473 307h3M481 307h2M487 307h5M496 307h2M500 307h2M527 307h1M534 307h1M538 307h10M550 307h3M555 307h5M566 307h5M576 307h6M591 307h1M602 307h3M612 307h2M628 307h1M644 307h1M651 307h2M654 307h2M664 307h3M670 307h4M676 307h1M229 308h4M242 308h1M248 308h8M262 308h7M270 308h3M285 308h2M312 308h4M338 308h1M412 308h2M461 308h2M469 308h3M473 308h3M478 308h1M481 308h2M485 308h15M537 308h1M540 308h4M545 308h3M553 308h9M565 308h4M572 308h1M575 308h6M583 308h1M591 308h2M598 308h1M603 308h1M610 308h4M650 308h6M660 308h2M664 308h10M675 308h2M216 309h1M229 309h4M243 309h1M248 309h7M259 309h10M270 309h4M285 309h3M296 309h2M300 309h1M452 309h2M468 309h15M485 309h14M540 309h1M546 309h3M553 309h9M564 309h10M575 309h6M583 309h1M591 309h2M610 309h4M650 309h4M655 309h8M664 309h9M675 309h2M229 310h5M242 310h1M248 310h7M257 310h17M284 310h5M294 310h4M300 310h1M451 310h4M460 310h1M470 310h4M475 310h3M482 310h2M489 310h10M518 310h3M540 310h3M546 310h3M553 310h21M578 310h2M583 310h1M635 310h1M640 310h6M648 310h3M652 310h1M655 310h13M669 310h4M674 310h2M230 311h6M241 311h2M247 311h27M283 311h6M295 311h3M300 311h1M451 311h5M457 311h5M467 311h1M470 311h3M476 311h2M482 311h2M489 311h9M519 311h2M540 311h5M554 311h23M606 311h1M624 311h1M634 311h2M638 311h10M649 311h5M655 311h12M669 311h3M674 311h2M230 312h6M240 312h3M247 312h27M275 312h2M283 312h7M293 312h1M295 312h4M447 312h1M449 312h14M470 312h1M481 312h4M489 312h4M494 312h3M540 312h6M554 312h23M625 312h2M628 312h2M634 312h14M651 312h16M669 312h4M676 312h1M228 313h2M233 313h1M240 313h4M246 313h28M275 313h2M281 313h13M295 313h5M390 313h1M448 313h10M480 313h5M490 313h2M494 313h2M539 313h7M554 313h1M556 313h21M592 313h2M626 313h1M629 313h2M634 313h14M650 313h17M668 313h1M672 313h1M677 313h2M227 314h7M239 314h5M246 314h30M281 314h18M370 314h1M411 314h1M448 314h3M452 314h6M477 314h2M482 314h2M539 314h6M549 314h2M556 314h25M611 314h1M629 314h1M634 314h8M643 314h23M227 315h4M233 315h2M240 315h1M242 315h1M246 315h27M279 315h1M282 315h16M370 315h1M374 315h1M391 315h1M411 315h2M446 315h1M448 315h3M453 315h5M477 315h3M494 315h1M540 315h3M556 315h2M560 315h13M575 315h7M587 315h1M611 315h1M623 315h2M631 315h10M646 315h2M649 315h7M658 315h8M228 316h2M240 316h2M246 316h26M279 316h1M282 316h15M446 316h4M454 316h1M456 316h2M461 316h1M540 316h1M553 316h1M556 316h2M561 316h12M574 316h3M578 316h2M586 316h2M599 316h3M611 316h1M622 316h3M631 316h5M637 316h4M650 316h5M660 316h6M674 316h1M677 316h1M240 317h1M242 317h3M246 317h26M277 317h4M283 317h7M291 317h6M445 317h5M453 317h2M457 317h1M464 317h1M466 317h3M550 317h1M556 317h2M561 317h1M564 317h12M581 317h1M584 317h4M598 317h4M611 317h2M622 317h1M631 317h9M644 317h2M651 317h5M661 317h5M222 318h1M226 318h5M243 318h2M246 318h23M272 318h5M278 318h4M283 318h8M292 318h3M298 318h1M448 318h2M452 318h3M456 318h2M460 318h2M463 318h6M480 318h3M488 318h1M550 318h1M553 318h1M557 318h2M563 318h13M578 318h1M580 318h1M582 318h5M599 318h4M611 318h3M632 318h6M642 318h3M647 318h2M652 318h1M662 318h4M223 319h1M225 319h4M243 319h2M247 319h22M273 319h4M278 319h3M284 319h11M329 319h1M386 319h1M448 319h1M453 319h1M456 319h2M460 319h1M465 319h3M488 319h2M552 319h2M557 319h3M562 319h13M580 319h1M583 319h3M597 319h7M612 319h7M634 319h4M641 319h4M646 319h3M656 319h1M662 319h4M223 320h3M238 320h1M243 320h3M248 320h21M272 320h18M292 320h2M453 320h1M456 320h2M460 320h2M489 320h2M544 320h1M553 320h2M557 320h3M562 320h6M572 320h3M583 320h2M597 320h6M612 320h9M634 320h4M641 320h4M646 320h3M656 320h2M663 320h1M224 321h2M238 321h1M242 321h2M249 321h21M274 321h16M292 321h5M456 321h2M459 321h5M467 321h1M491 321h1M500 321h1M534 321h2M544 321h1M557 321h3M562 321h5M572 321h3M579 321h1M583 321h2M597 321h6M612 321h5M642 321h4M647 321h1M239 322h1M242 322h2M250 322h15M268 322h2M274 322h13M288 322h2M293 322h5M435 322h1M450 322h1M459 322h5M491 322h1M557 322h2M561 322h3M565 322h1M579 322h2M598 322h5M612 322h2M643 322h2M647 322h1M221 323h1M225 323h4M231 323h2M240 323h3M251 323h7M259 323h5M268 323h1M271 323h15M289 323h1M293 323h7M450 323h4M459 323h2M462 323h2M534 323h1M560 323h3M565 323h2M580 323h1M600 323h3M612 323h2M619 323h3M625 323h2M640 323h4M647 323h1M664 323h2M227 324h1M240 324h2M244 324h3M251 324h7M260 324h3M265 324h4M270 324h14M287 324h3M295 324h3M384 324h1M391 324h1M452 324h3M458 324h3M560 324h3M565 324h2M600 324h3M611 324h3M619 324h3M626 324h2M640 324h4M646 324h2M664 324h5M244 325h3M251 325h7M260 325h3M265 325h19M285 325h3M333 325h1M391 325h1M416 325h2M443 325h1M455 325h5M469 325h2M521 325h2M559 325h1M599 325h4M618 325h3M640 325h8M664 325h4M238 326h2M244 326h2M250 326h4M257 326h1M261 326h4M266 326h15M282 326h2M285 326h3M290 326h1M416 326h3M456 326h4M598 326h5M604 326h2M617 326h5M639 326h1M641 326h1M643 326h5M661 326h1M667 326h1M685 326h3M700 326h2M222 327h1M238 327h2M250 327h5M257 327h1M261 327h8M271 327h8M283 327h3M289 327h3M531 327h1M571 327h2M576 327h1M602 327h5M608 327h3M616 327h11M639 327h1M647 327h1M684 327h4M698 327h5M704 327h1M222 328h4M238 328h3M244 328h1M249 328h7M257 328h12M271 328h7M283 328h10M532 328h2M572 328h1M601 328h11M619 328h2M623 328h6M683 328h5M698 328h7M224 329h2M228 329h2M237 329h3M242 329h4M249 329h1M251 329h2M255 329h4M260 329h10M272 329h1M283 329h6M291 329h2M446 329h1M589 329h2M601 329h6M616 329h2M619 329h2M623 329h6M682 329h7M690 329h3M695 329h10M225 330h5M237 330h3M241 330h8M257 330h12M283 330h10M446 330h1M474 330h1M570 330h1M588 330h3M601 330h3M605 330h2M613 330h1M616 330h2M619 330h4M624 330h5M668 330h2M682 330h24M227 331h2M236 331h4M241 331h3M247 331h2M257 331h12M283 331h10M382 331h1M474 331h1M563 331h1M583 331h2M590 331h2M602 331h1M605 331h4M612 331h2M616 331h7M625 331h4M645 331h4M665 331h2M682 331h26M221 332h2M237 332h2M241 332h3M258 332h2M261 332h9M278 332h2M283 332h12M535 332h2M538 332h1M569 332h1M572 332h1M577 332h1M583 332h1M587 332h1M602 332h1M606 332h3M612 332h2M618 332h4M625 332h6M644 332h5M665 332h1M670 332h1M682 332h2M685 332h23M221 333h2M225 333h1M229 333h3M236 333h2M241 333h5M257 333h3M261 333h10M278 333h18M420 333h2M527 333h2M535 333h5M567 333h6M580 333h1M583 333h1M587 333h2M601 333h2M606 333h1M608 333h6M617 333h6M626 333h1M628 333h3M642 333h7M664 333h2M669 333h3M679 333h2M685 333h23M228 334h4M235 334h2M244 334h1M257 334h3M263 334h7M274 334h3M281 334h14M296 334h2M419 334h2M504 334h1M506 334h1M513 334h2M533 334h7M566 334h3M575 334h2M599 334h5M609 334h2M614 334h10M626 334h6M642 334h5M662 334h4M679 334h2M685 334h6M692 334h16M230 335h1M236 335h1M257 335h3M265 335h4M274 335h3M281 335h6M288 335h4M296 335h2M418 335h3M505 335h1M513 335h1M529 335h12M565 335h1M600 335h6M614 335h10M627 335h5M641 335h5M662 335h2M675 335h2M679 335h3M683 335h1M685 335h6M693 335h15M235 336h1M251 336h3M256 336h5M266 336h2M275 336h2M281 336h2M289 336h3M296 336h3M530 336h4M535 336h7M574 336h2M610 336h1M615 336h3M621 336h5M629 336h6M643 336h1M657 336h1M668 336h1M671 336h7M679 336h5M686 336h25M234 337h2M247 337h1M251 337h9M265 337h2M273 337h4M281 337h2M296 337h3M532 337h1M536 337h6M565 337h1M571 337h1M574 337h4M609 337h3M615 337h3M622 337h6M629 337h10M643 337h2M658 337h2M668 337h1M671 337h13M686 337h5M692 337h20M713 337h6M250 338h10M263 338h3M272 338h2M275 338h1M279 338h2M296 338h3M301 338h1M532 338h1M537 338h3M575 338h1M604 338h1M609 338h3M615 338h7M625 338h17M650 338h6M658 338h3M666 338h1M670 338h8M686 338h4M693 338h27M249 339h2M254 339h6M262 339h2M272 339h1M278 339h3M283 339h1M296 339h5M444 339h1M510 339h1M537 339h3M573 339h2M604 339h1M610 339h2M615 339h4M620 339h2M625 339h17M651 339h2M654 339h2M657 339h5M666 339h12M688 339h2M692 339h13M706 339h18M250 340h3M254 340h7M277 340h4M296 340h1M444 340h6M510 340h1M519 340h2M538 340h1M612 340h2M615 340h2M620 340h8M631 340h2M638 340h1M651 340h1M654 340h10M666 340h11M691 340h13M706 340h21M250 341h11M279 341h3M296 341h1M448 341h2M509 341h2M512 341h4M519 341h3M577 341h1M610 341h1M620 341h4M626 341h3M638 341h1M654 341h19M674 341h1M679 341h2M682 341h3M691 341h11M706 341h1M709 341h19M250 342h11M263 342h1M267 342h1M279 342h4M294 342h4M449 342h4M466 342h1M468 342h2M501 342h2M506 342h5M512 342h11M539 342h1M609 342h1M617 342h2M620 342h2M626 342h3M637 342h2M653 342h15M669 342h3M679 342h2M691 342h9M711 342h2M715 342h14M249 343h2M253 343h10M280 343h4M452 343h2M469 343h2M499 343h4M506 343h2M510 343h14M608 343h1M613 343h4M626 343h3M638 343h2M653 343h14M670 343h2M687 343h15M706 343h1M709 343h3M716 343h3M721 343h10M249 344h2M254 344h9M291 344h1M459 344h1M461 344h1M469 344h3M475 344h3M499 344h4M506 344h2M510 344h13M526 344h2M531 344h3M537 344h1M597 344h2M626 344h3M641 344h1M653 344h3M657 344h6M664 344h2M685 344h6M694 344h9M706 344h6M713 344h2M721 344h10M733 344h1M250 345h1M259 345h2M439 345h1M457 345h2M473 345h5M498 345h2M503 345h5M511 345h12M526 345h2M531 345h3M597 345h3M625 345h4M653 345h4M658 345h4M685 345h6M694 345h2M697 345h6M705 345h8M722 345h13M437 346h6M445 346h2M456 346h3M472 346h6M497 346h2M502 346h5M512 346h3M516 346h7M525 346h4M531 346h5M545 346h1M589 346h1M599 346h1M624 346h5M653 346h4M659 346h2M662 346h3M666 346h2M682 346h2M685 346h6M693 346h1M697 346h5M705 346h8M722 346h14M275 347h3M437 347h7M447 347h2M454 347h4M471 347h7M496 347h4M502 347h5M513 347h2M516 347h7M524 347h5M530 347h9M593 347h1M626 347h3M654 347h2M658 347h11M672 347h2M686 347h8M696 347h3M704 347h5M711 347h2M722 347h12M276 348h2M436 348h1M440 348h4M445 348h6M455 348h1M463 348h1M467 348h2M473 348h3M494 348h14M514 348h25M627 348h2M658 348h4M665 348h3M672 348h1M686 348h13M702 348h6M711 348h1M722 348h11M276 349h2M439 349h13M457 349h4M466 349h4M494 349h44M628 349h2M656 349h5M664 349h1M685 349h14M701 349h7M710 349h2M721 349h11M436 350h1M438 350h12M457 350h6M466 350h4M481 350h2M494 350h3M498 350h34M622 350h1M625 350h1M657 350h3M662 350h3M685 350h14M701 350h8M710 350h2M721 350h11M274 351h1M436 351h14M458 351h5M466 351h4M481 351h2M494 351h2M501 351h26M528 351h2M537 351h2M563 351h2M652 351h1M661 351h3M680 351h1M685 351h13M701 351h11M721 351h9M732 351h3M354 352h5M437 352h13M457 352h6M468 352h2M481 352h1M499 352h18M518 352h8M536 352h3M564 352h1M640 352h2M653 352h1M685 352h4M690 352h9M701 352h9M720 352h10M732 352h3M352 353h9M437 353h12M456 353h7M481 353h1M496 353h20M520 353h4M536 353h2M618 353h1M640 353h1M686 353h1M690 353h17M709 353h1M721 353h9M731 353h2M352 354h10M434 354h1M440 354h2M444 354h6M457 354h3M461 354h1M465 354h1M469 354h2M481 354h1M498 354h2M502 354h16M520 354h6M648 354h1M686 354h20M717 354h1M721 354h11M352 355h8M433 355h2M447 355h6M458 355h2M465 355h1M469 355h3M499 355h1M501 355h17M520 355h3M524 355h4M686 355h20M712 355h1M715 355h4M721 355h8M214 356h1M350 356h11M433 356h3M443 356h1M447 356h6M456 356h4M471 356h2M500 356h3M505 356h12M520 356h2M525 356h3M642 356h1M648 356h5M686 356h21M712 356h14M214 357h1M219 357h1M350 357h13M425 357h1M433 357h3M443 357h5M449 357h4M456 357h3M472 357h2M508 357h2M512 357h5M590 357h4M633 357h4M642 357h3M647 357h8M690 357h17M712 357h11M214 358h2M350 358h13M424 358h2M432 358h6M443 358h5M451 358h8M471 358h3M477 358h1M507 358h2M513 358h2M559 358h2M581 358h1M590 358h4M631 358h8M641 358h16M691 358h12M713 358h7M722 358h1M214 359h3M349 359h13M425 359h1M431 359h10M443 359h5M454 359h5M465 359h1M471 359h3M477 359h1M507 359h1M517 359h1M559 359h2M581 359h2M584 359h4M590 359h3M629 359h2M632 359h27M691 359h8M700 359h1M714 359h4M206 360h2M210 360h8M348 360h2M353 360h9M431 360h11M446 360h1M454 360h5M464 360h7M477 360h1M508 360h1M538 360h1M575 360h1M584 360h3M591 360h2M608 360h1M630 360h1M632 360h11M644 360h16M689 360h1M692 360h7M716 360h2M205 361h12M352 361h9M431 361h7M450 361h9M464 361h3M468 361h3M477 361h2M508 361h2M515 361h1M538 361h1M576 361h1M591 361h4M608 361h1M616 361h1M618 361h2M627 361h1M630 361h30M663 361h2M685 361h4M697 361h2M204 362h13M352 362h5M360 362h1M433 362h2M436 362h2M450 362h9M463 362h4M469 362h3M508 362h1M538 362h1M582 362h1M584 362h1M587 362h1M590 362h8M613 362h1M616 362h5M626 362h3M633 362h32M685 362h3M697 362h1M700 362h1M205 363h13M223 363h1M436 363h1M446 363h13M464 363h5M471 363h1M507 363h1M538 363h1M574 363h1M577 363h3M581 363h5M587 363h6M594 363h4M609 363h4M618 363h3M626 363h3M634 363h31M683 363h2M699 363h2M206 364h12M432 364h1M434 364h1M445 364h4M455 364h4M464 364h5M568 364h2M577 364h2M582 364h3M586 364h7M609 364h2M625 364h2M634 364h31M684 364h1M203 365h1M206 365h13M432 365h3M438 365h1M445 365h3M456 365h6M463 365h4M520 365h2M551 365h1M568 365h2M575 365h4M583 365h2M586 365h7M609 365h1M628 365h1M630 365h12M643 365h20M664 365h2M671 365h1M203 366h17M432 366h4M456 366h9M521 366h1M551 366h1M575 366h16M609 366h1M627 366h15M643 366h8M653 366h1M658 366h1M664 366h3M203 367h17M432 367h4M459 367h6M548 367h1M551 367h1M576 367h14M616 367h1M626 367h4M632 367h13M646 367h5M666 367h1M205 368h15M435 368h1M462 368h3M548 368h1M577 368h17M615 368h3M624 368h6M632 368h13M647 368h6M666 368h1M206 369h13M462 369h5M534 369h1M576 369h18M595 369h1M615 369h4M624 369h4M629 369h14M646 369h8M657 369h2M208 370h9M462 370h2M564 370h2M576 370h17M595 370h1M598 370h1M615 370h5M625 370h2M630 370h11M645 370h9M208 371h10M554 371h2M562 371h5M577 371h22M615 371h8M626 371h15M645 371h8M674 371h1M698 371h2M701 371h1M208 372h10M519 372h2M528 372h1M553 372h1M562 372h5M577 372h20M615 372h9M625 372h1M627 372h1M631 372h9M642 372h9M693 372h1M698 372h1M701 372h2M713 372h2M209 373h7M513 373h1M519 373h2M536 373h1M554 373h1M563 373h4M577 373h8M586 373h12M610 373h1M616 373h2M622 373h2M635 373h5M642 373h8M654 373h2M673 373h1M691 373h3M697 373h3M210 374h4M513 374h1M520 374h2M534 374h1M539 374h1M563 374h3M578 374h6M587 374h5M595 374h3M621 374h2M636 374h4M644 374h4M653 374h3M657 374h1M690 374h3M696 374h4M211 375h1M213 375h1M516 375h1M563 375h2M579 375h4M586 375h5M595 375h3M599 375h2M612 375h3M620 375h4M644 375h5M652 375h5M690 375h4M696 375h5M702 375h1M564 376h1M578 376h13M596 376h2M599 376h2M612 376h13M638 376h2M644 376h5M652 376h5M689 376h13M579 377h9M589 377h2M597 377h4M613 377h8M624 377h1M637 377h3M644 377h4M650 377h1M655 377h3M688 377h10M699 377h3M579 378h9M597 378h1M599 378h3M613 378h8M645 378h2M649 378h6M661 378h2M686 378h17M580 379h8M596 379h1M600 379h5M614 379h3M618 379h3M654 379h2M661 379h2M685 379h17M552 380h2M571 380h1M579 380h11M595 380h3M599 380h6M616 380h7M631 380h2M661 380h2M685 380h17M551 381h1M570 381h2M579 381h10M597 381h8M616 381h2M619 381h3M631 381h1M661 381h3M686 381h15M538 382h1M547 382h2M550 382h2M561 382h5M571 382h1M578 382h13M597 382h7M661 382h1M688 382h11M543 383h10M555 383h1M561 383h5M579 383h10M597 383h7M609 383h2M689 383h9M517 384h2M543 384h9M553 384h1M561 384h9M579 384h10M594 384h1M597 384h6M609 384h2M618 384h6M629 384h2M690 384h7M517 385h1M543 385h9M561 385h2M566 385h5M580 385h9M593 385h2M598 385h2M610 385h2M618 385h7M626 385h2M658 385h1M691 385h3M543 386h1M545 386h12M559 386h4M568 386h3M581 386h8M594 386h1M599 386h2M619 386h9M629 386h1M657 386h5M691 386h2M542 387h2M550 387h7M559 387h3M569 387h2M581 387h8M594 387h1M598 387h4M614 387h1M618 387h10M629 387h1M639 387h1M657 387h2M691 387h1M541 388h2M548 388h9M559 388h3M575 388h14M590 388h2M594 388h3M599 388h3M618 388h10M629 388h1M639 388h1M668 388h2M687 388h2M547 389h6M554 389h2M578 389h14M594 389h1M596 389h3M602 389h1M608 389h1M611 389h2M615 389h2M618 389h1M620 389h10M632 389h1M684 389h5M548 390h5M585 390h9M596 390h3M608 390h5M615 390h2M618 390h15M638 390h1M684 390h5M532 391h1M551 391h2M585 391h8M595 391h1M607 391h5M615 391h18M681 391h2M684 391h2M687 391h1M529 392h1M532 392h1M550 392h3M582 392h11M595 392h1M607 392h7M615 392h3M619 392h14M682 392h2M687 392h2M571 393h3M581 393h9M591 393h3M608 393h4M617 393h16M649 393h1M687 393h2M571 394h1M582 394h13M609 394h3M618 394h1M620 394h12M649 394h1M685 394h5M537 395h2M575 395h2M582 395h13M609 395h2M614 395h3M620 395h12M649 395h1M659 395h3M686 395h4M540 396h1M575 396h2M580 396h16M610 396h1M620 396h6M628 396h7M655 396h1M659 396h1M686 396h5M520 397h2M540 397h2M573 397h1M580 397h16M619 397h5M630 397h6M655 397h1M659 397h1M672 397h2M686 397h5M541 398h3M581 398h12M594 398h1M605 398h3M618 398h4M631 398h6M658 398h4M671 398h2M686 398h3M535 399h1M581 399h11M605 399h2M618 399h2M628 399h2M634 399h3M653 399h2M658 399h8M672 399h1M677 399h3M687 399h1M581 400h9M591 400h1M605 400h1M617 400h4M628 400h2M653 400h2M658 400h10M671 400h2M675 400h5M582 401h8M618 401h7M653 401h2M657 401h6M665 401h3M672 401h8M544 402h3M570 402h2M583 402h1M585 402h5M612 402h3M619 402h1M622 402h3M638 402h1M648 402h2M653 402h15M672 402h6M679 402h1M542 403h4M552 403h1M586 403h5M611 403h4M622 403h2M638 403h3M648 403h3M653 403h16M671 403h6M679 403h3M543 404h2M569 404h1M582 404h1M588 404h2M599 404h1M612 404h3M622 404h2M627 404h2M637 404h4M644 404h1M648 404h2M653 404h12M667 404h9M679 404h4M518 405h1M568 405h2M582 405h1M595 405h1M599 405h3M620 405h2M626 405h3M639 405h1M655 405h9M668 405h8M678 405h5M684 405h3M518 406h1M569 406h1M595 406h1M599 406h4M616 406h2M626 406h2M645 406h2M649 406h1M655 406h6M663 406h2M668 406h8M678 406h9M514 407h2M600 407h1M602 407h1M628 407h3M638 407h2M645 407h2M649 407h1M652 407h9M663 407h3M668 407h7M677 407h10M561 408h2M590 408h1M594 408h1M636 408h4M649 408h12M662 408h13M678 408h5M684 408h4M187 409h2M590 409h1M593 409h2M615 409h2M635 409h4M646 409h29M677 409h12M186 410h4M541 410h1M579 410h1M594 410h1M637 410h3M647 410h2M651 410h1M653 410h22M677 410h10M688 410h2M184 411h5M541 411h1M580 411h1M607 411h4M614 411h1M637 411h5M647 411h5M654 411h32M688 411h2M184 412h7M541 412h1M580 412h3M606 412h5M613 412h2M637 412h7M645 412h8M654 412h37M183 413h8M580 413h4M607 413h3M613 413h1M636 413h8M646 413h7M654 413h21M676 413h15M183 414h8M543 414h3M557 414h1M579 414h4M607 414h3M630 414h1M636 414h8M646 414h7M655 414h9M666 414h26M183 415h7M521 415h1M558 415h1M579 415h5M630 415h1M633 415h2M636 415h8M646 415h3M651 415h2M655 415h9M666 415h26M184 416h5M544 416h1M579 416h6M630 416h1M634 416h2M638 416h7M646 416h3M656 416h5M664 416h14M679 416h7M688 416h4M544 417h1M618 417h2M624 417h2M637 417h9M647 417h1M655 417h7M663 417h4M670 417h7M680 417h12M596 418h1M637 418h9M655 418h11M670 418h3M679 418h13M216 419h1M541 419h1M552 419h3M592 419h1M622 419h2M625 419h1M638 419h7M656 419h3M670 419h1M676 419h16M210 420h1M213 420h5M538 420h1M552 420h3M583 420h1M624 420h2M638 420h7M653 420h5M676 420h15M209 421h9M538 421h2M552 421h3M566 421h1M583 421h1M585 421h3M628 421h1M638 421h9M652 421h6M675 421h16M209 422h9M533 422h1M539 422h2M566 422h1M585 422h3M637 422h5M644 422h3M652 422h2M656 422h2M661 422h3M665 422h3M672 422h19M210 423h9M538 423h3M586 423h2M593 423h1M628 423h2M638 423h5M644 423h3M657 423h1M661 423h3M665 423h4M670 423h15M686 423h6M210 424h10M520 424h1M534 424h1M537 424h4M566 424h2M586 424h1M591 424h2M615 424h2M627 424h3M638 424h5M645 424h1M667 424h17M687 424h5M211 425h9M562 425h2M566 425h2M614 425h5M627 425h5M638 425h5M660 425h1M665 425h1M668 425h16M687 425h5M212 426h8M566 426h1M576 426h1M616 426h2M629 426h4M634 426h1M638 426h4M648 426h2M657 426h1M659 426h3M663 426h4M669 426h15M687 426h4M215 427h3M615 427h1M630 427h2M634 427h1M637 427h5M648 427h2M656 427h1M660 427h2M663 427h25M689 427h2M216 428h1M614 428h2M630 428h2M636 428h3M640 428h2M648 428h3M654 428h3M660 428h2M663 428h28M615 429h1M629 429h3M637 429h6M651 429h2M655 429h3M661 429h1M663 429h29M629 430h4M638 430h5M651 430h1M657 430h1M661 430h1M666 430h26M526 431h1M630 431h4M641 431h5M651 431h2M657 431h2M666 431h26M528 432h2M574 432h1M631 432h6M643 432h4M651 432h2M655 432h5M666 432h26M560 433h1M619 433h1M632 433h6M643 433h4M650 433h4M655 433h4M668 433h14M683 433h10M560 434h2M632 434h13M650 434h4M656 434h1M668 434h10M679 434h6M686 434h7M531 435h1M537 435h1M629 435h17M650 435h4M659 435h3M665 435h1M668 435h9M679 435h6M686 435h7M521 436h1M629 436h18M653 436h3M661 436h2M665 436h1M667 436h26M509 437h2M562 437h1M565 437h1M629 437h18M654 437h2M661 437h32M510 438h1M562 438h1M565 438h3M629 438h2M634 438h13M648 438h3M659 438h21M681 438h13M566 439h1M629 439h2M633 439h4M638 439h16M659 439h3M663 439h17M681 439h13M629 440h2M633 440h4M638 440h15M660 440h1M663 440h32M629 441h1M639 441h2M647 441h6M654 441h3M658 441h1M662 441h33M587 442h2M639 442h2M649 442h7M658 442h2M663 442h16M680 442h16M518 443h1M562 443h1M568 443h2M640 443h1M649 443h7M658 443h4M664 443h32M519 444h1M563 444h1M641 444h1M643 444h2M649 444h1M653 444h2M657 444h17M675 444h21M513 445h1M519 445h2M610 445h1M641 445h1M649 445h1M653 445h21M675 445h21M516 446h1M519 446h1M609 446h3M648 446h2M652 446h15M668 446h28M512 447h3M551 447h3M609 447h3M652 447h12M669 447h20M690 447h6M512 448h2M519 448h2M610 448h2M651 448h14M670 448h17M691 448h5M509 449h1M512 449h2M519 449h1M550 449h1M554 449h1M651 449h14M670 449h16M691 449h6M506 450h1M508 450h1M554 450h1M620 450h2M650 450h16M669 450h11M681 450h5M690 450h7M620 451h1M643 451h2M649 451h2M656 451h10M669 451h6M676 451h3M684 451h3M690 451h7M513 452h2M559 452h1M623 452h2M639 452h6M650 452h1M657 452h1M660 452h6M671 452h3M676 452h3M682 452h4M690 452h7M524 453h2M623 453h2M637 453h7M656 453h2M660 453h8M671 453h3M675 453h5M683 453h4M690 453h5M498 454h1M525 454h1M636 454h12M657 454h1M660 454h4M666 454h1M672 454h1M675 454h5M684 454h3M689 454h6M569 455h1M620 455h2M636 455h3M640 455h8M653 455h2M659 455h4M670 455h1M678 455h3M689 455h5M569 456h1M616 456h2M621 456h1M633 456h14M657 456h3M662 456h1M670 456h1M672 456h4M678 456h4M689 456h3M566 457h1M580 457h1M617 457h1M633 457h14M656 457h7M669 457h8M679 457h5M689 457h3M567 458h1M633 458h8M642 458h1M656 458h9M669 458h3M673 458h11M688 458h3M527 459h2M553 459h1M589 459h1M631 459h8M655 459h4M661 459h4M669 459h1M673 459h10M688 459h1M691 459h3M549 460h1M555 460h1M567 460h3M606 460h1M610 460h1M627 460h1M632 460h2M638 460h2M642 460h2M655 460h5M662 460h3M673 460h10M692 460h3M554 461h3M610 461h1M632 461h2M638 461h2M642 461h2M654 461h3M673 461h9M688 461h1M692 461h2M695 461h2M699 461h2M517 462h1M554 462h1M633 462h1M637 462h3M654 462h1M672 462h10M689 462h2M695 462h9M638 463h2M673 463h10M686 463h1M695 463h8M634 464h4M651 464h1M674 464h9M685 464h3M695 464h8M509 465h2M574 465h5M601 465h2M635 465h3M642 465h5M649 465h3M655 465h3M673 465h3M678 465h2M681 465h5M697 465h5M510 466h1M569 466h2M572 466h1M576 466h3M638 466h2M642 466h4M649 466h3M656 466h2M672 466h4M678 466h2M681 466h1M698 466h3M572 467h2M576 467h1M633 467h2M639 467h2M642 467h4M651 467h1M657 467h3M672 467h4M685 467h1M687 467h1M697 467h3M193 468h1M633 468h2M639 468h1M643 468h4M657 468h3M669 468h4M676 468h1M194 469h1M507 469h3M547 469h1M643 469h4M654 469h6M668 469h4M676 469h1M507 470h3M547 470h3M643 470h1M654 470h6M670 470h2M676 470h1M203 471h1M508 471h1M549 471h1M654 471h2M670 471h3M677 471h1M569 472h4M669 472h3M676 472h4M681 472h2M568 473h4M668 473h3M676 473h8M182 474h1M492 474h1M602 474h1M667 474h3M677 474h3M681 474h2M701 474h1M182 475h1M490 475h2M572 475h1M601 475h2M662 475h1M677 475h2M562 476h1M572 476h2M662 476h1M677 476h3M685 476h2M241 477h1M544 477h1M562 477h1M568 477h1M571 477h3M658 477h1M672 477h3M677 477h5M170 478h1M500 478h1M519 478h1M560 478h4M571 478h3M643 478h3M672 478h3M678 478h4M685 478h2M242 479h1M516 479h1M519 479h1M560 479h3M565 479h2M572 479h3M576 479h1M596 479h1M643 479h5M654 479h1M673 479h3M677 479h11M305 480h1M367 480h1M482 480h1M516 480h4M560 480h3M569 480h2M574 480h2M596 480h1M637 480h2M642 480h7M653 480h5M674 480h7M682 480h3M481 481h2M521 481h2M560 481h12M638 481h3M643 481h6M653 481h5M674 481h1M682 481h1M199 482h1M324 482h1M518 482h1M560 482h10M620 482h2M638 482h3M644 482h3M652 482h2M655 482h2M179 483h2M324 483h1M365 483h1M518 483h1M559 483h4M564 483h6M580 483h2M620 483h1M638 483h3M322 484h1M559 484h3M565 484h2M568 484h2M577 484h1M581 484h1M620 484h1M247 485h2M279 485h1M305 485h2M311 485h2M320 485h1M559 485h3M565 485h1M572 485h1M576 485h2M581 485h1M606 485h2M636 485h1M247 486h1M305 486h2M311 486h3M486 486h2M545 486h2M561 486h1M563 486h3M572 486h6M607 486h1M626 486h1M646 486h1M687 486h1M255 487h1M280 487h2M488 487h1M571 487h1M574 487h3M638 487h2M244 488h2M280 488h2M349 488h2M373 488h2M511 488h1M548 488h1M567 488h1M574 488h2M578 488h1M635 488h5M348 489h3M374 489h1M390 489h1M566 489h2M575 489h4M637 489h3M244 490h1M296 490h2M348 490h2M358 490h2M372 490h4M562 490h1M564 490h1M566 490h4M576 490h5M637 490h3M650 490h1M172 491h2M296 491h3M359 491h1M371 491h6M380 491h1M567 491h3M574 491h5M636 491h3M653 491h1M172 492h2M296 492h2M359 492h2M371 492h6M380 492h1M390 492h3M511 492h1M518 492h3M529 492h1M567 492h2M574 492h3M620 492h2M633 492h2M637 492h3M359 493h1M373 493h4M382 493h2M389 493h5M510 493h2M514 493h3M518 493h3M528 493h2M567 493h2M570 493h1M573 493h1M594 493h1M638 493h1M361 494h1M373 494h6M381 494h4M389 494h5M510 494h12M525 494h1M527 494h2M563 494h7M574 494h1M576 494h2M584 494h1M639 494h2M284 495h2M375 495h4M380 495h2M390 495h2M509 495h3M514 495h8M526 495h3M561 495h1M563 495h8M574 495h4M592 495h1M622 495h2M641 495h1M260 496h1M283 496h2M334 496h1M375 496h3M381 496h1M509 496h2M515 496h3M527 496h3M563 496h2M567 496h2M608 496h2M625 496h1M629 496h2M647 496h2M275 497h2M281 497h1M283 497h2M327 497h2M375 497h2M382 497h2M495 497h2M509 497h2M515 497h3M527 497h5M534 497h1M559 497h1M567 497h2M608 497h2M622 497h1M625 497h5M644 497h2M231 498h2M283 498h2M286 498h1M324 498h2M375 498h2M496 498h1M507 498h2M515 498h3M522 498h1M526 498h2M530 498h2M534 498h2M562 498h1M605 498h6M639 498h1M644 498h2M325 499h1M376 499h1M381 499h2M402 499h1M507 499h4M515 499h3M536 499h1M606 499h7M632 499h1M641 499h3M381 500h2M389 500h1M507 500h5M515 500h1M519 500h1M521 500h4M526 500h1M560 500h1M609 500h4M642 500h3M669 500h1M373 501h1M379 501h1M388 501h2M506 501h10M518 501h1M521 501h7M602 501h2M608 501h7M616 501h1M643 501h1M657 501h2M353 502h1M373 502h2M379 502h2M382 502h3M386 502h1M506 502h5M513 502h6M522 502h5M603 502h2M607 502h6M614 502h3M637 502h2M646 502h1M657 502h2M671 502h1M286 503h1M302 503h2M353 503h1M378 503h7M386 503h1M506 503h14M522 503h5M567 503h1M580 503h2M614 503h6M636 503h4M670 503h2M241 504h1M353 504h2M376 504h9M386 504h1M506 504h14M522 504h2M530 504h2M567 504h2M572 504h1M579 504h4M613 504h4M619 504h1M636 504h4M653 504h1M240 505h1M279 505h1M304 505h1M353 505h2M375 505h8M505 505h3M510 505h6M531 505h2M534 505h2M566 505h2M569 505h3M576 505h1M580 505h3M613 505h1M616 505h1M620 505h1M639 505h1M646 505h1M653 505h1M376 506h6M505 506h3M511 506h6M530 506h3M534 506h2M566 506h2M571 506h1M576 506h2M581 506h2M587 506h2M613 506h1M615 506h2M625 506h1M676 506h2M244 507h3M282 507h1M374 507h1M376 507h6M393 507h2M399 507h1M495 507h1M505 507h3M511 507h2M514 507h2M521 507h1M526 507h2M529 507h4M534 507h2M540 507h1M576 507h2M581 507h2M587 507h2M592 507h3M602 507h3M615 507h1M625 507h1M647 507h1M683 507h2M245 508h3M249 508h2M356 508h1M393 508h2M398 508h1M495 508h1M504 508h4M511 508h1M513 508h2M521 508h2M525 508h8M535 508h1M540 508h1M575 508h2M583 508h2M586 508h3M591 508h4M601 508h12M627 508h1M633 508h1M652 508h2M249 509h4M352 509h2M356 509h1M393 509h2M503 509h4M521 509h2M525 509h2M528 509h5M574 509h3M579 509h4M586 509h9M600 509h1M603 509h8M612 509h2M627 509h3M632 509h3M647 509h1M652 509h2M249 510h4M393 510h3M480 510h3M503 510h3M512 510h1M520 510h3M525 510h8M569 510h2M573 510h3M581 510h1M584 510h1M588 510h8M599 510h2M605 510h6M626 510h12M642 510h1M658 510h1M224 511h1M248 511h5M320 511h1M394 511h3M405 511h1M421 511h1M479 511h4M504 511h3M517 511h6M524 511h4M530 511h4M570 511h1M581 511h4M589 511h7M600 511h1M606 511h5M615 511h2M626 511h1M629 511h9M641 511h1M248 512h5M301 512h1M319 512h2M370 512h1M393 512h3M420 512h2M480 512h2M505 512h2M516 512h10M531 512h3M570 512h1M578 512h8M588 512h6M602 512h2M606 512h5M616 512h2M629 512h9M639 512h2M647 512h4M247 513h5M380 513h1M393 513h3M505 513h5M518 513h9M532 513h1M566 513h2M578 513h7M588 513h3M602 513h2M606 513h2M609 513h2M615 513h5M629 513h11M648 513h1M650 513h1M224 514h2M242 514h2M248 514h3M377 514h5M497 514h1M505 514h7M516 514h1M519 514h3M523 514h5M563 514h5M578 514h7M599 514h2M602 514h4M610 514h1M615 514h5M629 514h2M636 514h4M647 514h2M650 514h1M262 515h4M363 515h2M377 515h6M390 515h1M392 515h3M497 515h2M501 515h2M504 515h10M523 515h5M563 515h6M572 515h1M577 515h5M584 515h2M597 515h9M615 515h5M629 515h3M636 515h4M642 515h2M646 515h2M660 515h1M262 516h4M377 516h6M390 516h4M497 516h2M501 516h3M506 516h8M523 516h5M562 516h8M571 516h2M576 516h5M589 516h1M597 516h9M615 516h3M629 516h3M636 516h4M642 516h2M646 516h1M247 517h3M262 517h4M360 517h2M376 517h6M390 517h4M478 517h1M484 517h1M501 517h5M508 517h6M526 517h2M562 517h2M565 517h8M575 517h5M589 517h2M595 517h12M621 517h1M636 517h3M642 517h2M668 517h1M247 518h3M263 518h3M297 518h1M361 518h3M374 518h2M377 518h3M381 518h1M389 518h2M479 518h1M501 518h13M561 518h3M565 518h5M571 518h2M578 518h1M590 518h2M604 518h2M619 518h1M621 518h2M631 518h9M667 518h2M248 519h1M264 519h2M362 519h2M374 519h6M381 519h1M389 519h2M501 519h3M505 519h4M512 519h3M561 519h3M565 519h1M568 519h7M582 519h1M591 519h1M618 519h2M621 519h2M631 519h9M264 520h3M359 520h3M364 520h2M374 520h3M379 520h2M389 520h1M442 520h2M505 520h4M512 520h3M569 520h8M581 520h1M621 520h1M631 520h9M266 521h1M296 521h2M364 521h3M380 521h2M507 521h3M513 521h1M558 521h1M562 521h2M568 521h9M632 521h1M634 521h5M641 521h2M288 522h2M304 522h1M343 522h2M383 522h1M442 522h1M509 522h4M546 522h1M558 522h1M561 522h3M568 522h10M581 522h2M594 522h1M634 522h4M641 522h1M288 523h2M382 523h2M483 523h1M555 523h4M560 523h4M569 523h2M573 523h4M594 523h1M606 523h1M632 523h3M636 523h2M640 523h3M342 524h1M384 524h1M388 524h1M555 524h2M559 524h4M569 524h8M584 524h1M595 524h1M634 524h1M640 524h1M243 525h2M256 525h1M258 525h1M352 525h2M366 525h1M375 525h1M382 525h4M475 525h1M555 525h2M559 525h4M569 525h8M213 526h1M248 526h1M251 526h2M256 526h3M333 526h1M344 526h1M366 526h2M374 526h1M381 526h5M392 526h2M418 526h1M555 526h1M559 526h4M567 526h3M572 526h5M595 526h1M240 527h2M248 527h1M251 527h3M256 527h1M264 527h1M333 527h3M343 527h3M351 527h1M363 527h1M367 527h1M382 527h6M392 527h1M516 527h2M559 527h5M567 527h2M574 527h2M583 527h1M594 527h3M240 528h2M251 528h6M294 528h2M335 528h1M343 528h6M350 528h1M366 528h2M377 528h2M382 528h3M386 528h2M391 528h1M516 528h2M559 528h6M568 528h1M582 528h2M586 528h1M595 528h1M604 528h3M610 528h1M250 529h6M315 529h1M349 529h1M367 529h4M376 529h4M382 529h3M386 529h3M390 529h6M561 529h3M568 529h1M582 529h2M601 529h7M609 529h2M246 530h1M250 530h6M263 530h2M315 530h2M367 530h3M375 530h21M517 530h2M537 530h2M556 530h2M560 530h3M568 530h1M602 530h7M245 531h2M252 531h3M362 531h5M379 531h15M555 531h8M576 531h1M579 531h1M584 531h4M602 531h5M215 532h1M252 532h2M350 532h2M360 532h6M379 532h15M556 532h6M567 532h1M572 532h1M574 532h4M579 532h1M583 532h6M602 532h3M607 532h2M252 533h2M313 533h5M338 533h1M350 533h3M354 533h1M360 533h3M379 533h6M386 533h5M521 533h2M556 533h6M566 533h1M575 533h6M583 533h7M597 533h1M601 533h2M606 533h3M629 533h1M247 534h2M251 534h3M314 534h4M351 534h2M359 534h4M380 534h2M387 534h3M511 534h2M531 534h1M559 534h3M565 534h2M573 534h1M575 534h6M583 534h3M587 534h3M596 534h1M599 534h3M607 534h2M628 534h2M632 534h1M640 534h1M248 535h1M251 535h6M313 535h1M315 535h2M358 535h5M368 535h1M380 535h3M387 535h1M484 535h1M531 535h2M559 535h3M565 535h2M569 535h4M574 535h11M587 535h3M625 535h1M629 535h1M632 535h1M251 536h5M316 536h1M324 536h1M353 536h1M358 536h3M362 536h2M381 536h1M532 536h2M548 536h2M557 536h2M567 536h18M587 536h2M602 536h1M616 536h1M630 536h1M656 536h2M670 536h2M313 537h4M351 537h1M358 537h2M363 537h4M385 537h1M548 537h1M556 537h2M567 537h18M587 537h3M601 537h2M625 537h1M630 537h4M237 538h2M311 538h1M350 538h2M358 538h3M362 538h5M574 538h12M588 538h2M601 538h2M625 538h2M630 538h2M633 538h1M237 539h2M311 539h1M322 539h1M343 539h1M347 539h2M359 539h9M429 539h1M546 539h1M568 539h1M574 539h12M601 539h2M625 539h2M236 540h1M347 540h2M360 540h7M494 540h2M529 540h4M545 540h2M558 540h2M568 540h1M573 540h13M590 540h2M602 540h1M615 540h1M626 540h1M633 540h2M222 541h1M307 541h2M344 541h2M347 541h2M357 541h1M361 541h5M408 541h1M415 541h1M478 541h1M495 541h1M505 541h2M530 541h4M545 541h1M557 541h4M568 541h1M572 541h11M587 541h5M633 541h2M215 542h1M306 542h5M345 542h2M354 542h1M356 542h2M362 542h4M393 542h2M408 542h1M505 542h2M524 542h3M531 542h3M553 542h1M560 542h1M563 542h1M568 542h2M572 542h4M577 542h6M587 542h2M633 542h3M640 542h2M305 543h6M342 543h1M363 543h1M368 543h1M500 543h3M505 543h1M523 543h7M551 543h3M560 543h1M562 543h2M567 543h3M571 543h11M610 543h1M634 543h1M640 543h2M656 543h1M307 544h3M342 544h1M362 544h5M368 544h1M499 544h4M524 544h3M559 544h11M571 544h4M577 544h1M579 544h3M226 545h1M303 545h2M307 545h2M363 545h6M371 545h2M389 545h2M499 545h3M518 545h1M523 545h4M535 545h2M559 545h15M575 545h2M580 545h6M587 545h3M622 545h1M305 546h4M310 546h1M319 546h1M365 546h4M371 546h3M376 546h1M379 546h2M387 546h1M402 546h1M518 546h10M535 546h3M548 546h2M562 546h12M579 546h7M587 546h3M305 547h3M309 547h1M353 547h2M365 547h10M376 547h2M380 547h4M402 547h1M517 547h5M524 547h4M548 547h1M562 547h6M569 547h5M577 547h4M582 547h8M305 548h2M343 548h2M353 548h3M365 548h9M377 548h2M381 548h3M499 548h2M517 548h4M523 548h6M532 548h1M562 548h4M569 548h4M577 548h4M582 548h9M635 548h2M332 549h1M344 549h1M352 549h5M364 549h5M373 549h1M377 549h1M496 549h5M517 549h4M523 549h3M527 549h3M532 549h2M562 549h4M568 549h5M574 549h13M588 549h4M635 549h2M332 550h1M352 550h4M365 550h1M373 550h2M412 550h1M496 550h5M517 550h4M522 550h3M527 550h3M545 550h2M562 550h4M568 550h2M574 550h2M578 550h3M584 550h6M591 550h1M363 551h1M368 551h2M373 551h3M461 551h1M496 551h2M501 551h1M517 551h6M559 551h1M580 551h1M584 551h2M361 552h3M366 552h4M372 552h4M449 552h1M461 552h1M494 552h9M507 552h4M512 552h2M517 552h2M520 552h3M534 552h1M564 552h2M583 552h2M360 553h2M363 553h1M369 553h1M372 553h4M494 553h3M506 553h9M516 553h3M521 553h2M564 553h3M343 554h2M352 554h3M357 554h1M359 554h6M371 554h4M393 554h1M441 554h2M495 554h1M505 554h5M512 554h7M520 554h3M565 554h2M571 554h2M575 554h4M587 554h1M352 555h3M359 555h8M371 555h3M393 555h1M495 555h2M503 555h4M508 555h1M513 555h3M519 555h4M565 555h1M570 555h4M351 556h5M357 556h2M365 556h5M373 556h1M496 556h2M503 556h9M520 556h2M524 556h2M570 556h5M576 556h1M580 556h1M324 557h3M351 557h5M357 557h3M366 557h4M496 557h3M503 557h9M521 557h1M524 557h2M571 557h7M580 557h1M324 558h2M351 558h9M497 558h1M502 558h11M520 558h6M575 558h2M579 558h1M351 559h2M355 559h5M438 559h1M447 559h4M501 559h7M509 559h4M519 559h8M575 559h2M355 560h1M358 560h1M446 560h2M450 560h1M501 560h12M519 560h7M560 560h1M575 560h1M331 561h1M353 561h1M355 561h1M358 561h1M427 561h1M432 561h1M446 561h1M450 561h2M495 561h2M498 561h5M505 561h7M520 561h2M524 561h2M563 561h3M578 561h1M357 562h2M427 562h1M450 562h3M470 562h2M494 562h8M513 562h3M520 562h2M563 562h3M420 563h3M449 563h7M470 563h2M491 563h10M513 563h3M551 563h1M420 564h2M447 564h5M453 564h3M465 564h7M480 564h2M491 564h9M512 564h3M517 564h4M551 564h1M576 564h2M394 565h1M420 565h3M428 565h2M448 565h4M454 565h2M466 565h7M478 565h4M491 565h5M498 565h2M501 565h2M504 565h4M510 565h5M517 565h4M577 565h2M597 565h1M392 566h3M429 566h1M440 566h1M448 566h4M454 566h1M467 566h2M470 566h1M478 566h3M492 566h3M497 566h6M506 566h8M518 566h2M578 566h1M351 567h1M421 567h2M447 567h5M467 567h1M473 567h2M477 567h5M491 567h1M493 567h2M496 567h7M506 567h6M561 567h1M351 568h2M421 568h3M446 568h5M467 568h1M474 568h6M481 568h2M492 568h1M494 568h8M505 568h5M511 568h1M422 569h1M447 569h5M466 569h1M475 569h4M480 569h3M495 569h2M498 569h4M505 569h4M510 569h3M544 569h1M354 570h1M418 570h3M433 570h2M447 570h6M465 570h2M476 570h7M494 570h9M506 570h1M510 570h3M404 571h1M417 571h4M449 571h3M455 571h1M465 571h1M475 571h7M496 571h7M506 571h1M511 571h1M400 572h2M418 572h2M430 572h1M454 572h3M473 572h9M493 572h1M498 572h4M506 572h2M594 572h2M399 573h5M421 573h3M454 573h2M463 573h1M468 573h2M473 573h10M498 573h3M505 573h5M570 573h1M595 573h1M388 574h1M398 574h6M417 574h1M421 574h3M453 574h2M469 574h1M473 574h9M499 574h2M504 574h4M528 574h2M387 575h1M397 575h8M416 575h3M421 575h4M428 575h2M453 575h2M473 575h5M480 575h2M499 575h2M528 575h1M386 576h2M398 576h3M403 576h2M409 576h1M423 576h1M428 576h1M452 576h3M461 576h1M464 576h3M473 576h5M480 576h2M486 576h1M508 576h2M381 577h1M386 577h2M399 577h1M404 577h1M408 577h2M412 577h2M441 577h1M444 577h1M452 577h2M460 577h4M481 577h2M486 577h2M501 577h2M508 577h2M550 577h1M552 577h2M381 578h1M386 578h3M393 578h2M399 578h1M405 578h1M408 578h3M412 578h3M443 578h2M451 578h2M460 578h4M473 578h1M482 578h1M486 578h1M501 578h1M507 578h3M547 578h4M387 579h2M393 579h2M405 579h2M408 579h8M442 579h4M451 579h2M457 579h4M473 579h2M482 579h3M507 579h1M404 580h3M408 580h3M413 580h3M432 580h1M442 580h1M473 580h2M482 580h3M390 581h3M403 581h8M414 581h3M419 581h5M474 581h2M505 581h3M389 582h5M395 582h1M403 582h7M414 582h3M418 582h6M425 582h1M497 582h2M506 582h1M379 583h2M383 583h2M389 583h4M398 583h1M403 583h8M414 583h9M426 583h1M379 584h6M390 584h3M403 584h4M408 584h11M420 584h3M533 584h2M379 585h5M389 585h2M392 585h3M403 585h3M407 585h12M420 585h2M534 585h1M380 586h4M389 586h2M393 586h2M403 586h6M411 586h6M420 586h1M380 587h4M389 587h1M394 587h1M403 587h14M419 587h2M537 587h2M403 588h4M409 588h4M415 588h2M403 589h1M410 589h3M415 589h2M385 590h1M410 590h2M386 591h1M407 591h2M410 591h1M396 592h3M407 592h2M410 592h1M396 593h4M396 594h3"/>
<path stroke="#cbcbcb" d="M243 74h1M242 75h2M247 75h2M242 76h2M247 76h1M243 77h2M243 78h2M242 79h4M296 79h1M243 80h4M293 80h5M244 81h3M252 81h1M291 81h7M246 82h1M249 82h1M252 82h1M259 82h2M290 82h2M294 82h3M304 82h1M244 83h6M259 83h3M283 83h2M294 83h3M304 83h1M244 84h6M254 84h2M259 84h3M263 84h7M283 84h6M294 84h3M301 84h6M246 85h3M251 85h4M259 85h10M283 85h5M294 85h12M250 86h5M259 86h10M292 86h14M251 87h1M258 87h13M292 87h14M257 88h14M292 88h9M303 88h3M257 89h3M265 89h7M293 89h5M299 89h2M304 89h2M246 90h2M266 90h5M293 90h5M304 90h2M240 91h3M246 91h3M265 91h3M269 91h1M294 91h1M240 92h3M246 92h3M265 92h2M245 93h3M246 94h2M249 94h4M246 95h8M241 96h4M246 96h11M232 97h7M241 97h3M247 97h9M229 98h1M232 98h7M241 98h2M247 98h10M228 99h12M241 99h2M248 99h8M227 100h14M248 100h7M226 101h6M235 101h6M248 101h6M225 102h7M238 102h2M247 102h7M224 103h8M244 103h1M246 103h7M222 104h5M231 104h3M244 104h7M225 105h2M231 105h3M241 105h1M245 105h5M225 106h6M241 106h1M244 106h2M225 107h6M241 107h1M243 107h3M216 108h2M219 108h15M237 108h1M243 108h2M215 109h19M243 109h2M215 110h19M243 110h1M215 111h4M221 111h12M215 112h2M222 112h12M215 113h2M223 113h11M215 114h2M224 114h9M225 115h8M225 116h9M225 117h4M230 117h3M309 137h2M309 138h7M318 138h1M309 139h11M309 140h11M311 141h9M311 142h8M311 143h6M310 144h7M310 145h7M310 146h6M310 147h5M312 148h1M217 155h1M222 155h2M215 156h3M214 157h4M215 158h3M216 159h3M216 160h5M462 171h1M456 172h2M462 172h2M457 173h1M462 173h2M465 173h1M462 174h1M465 175h2M464 176h2M271 177h1M464 177h2M465 178h1M264 180h1M270 180h1M456 180h2M263 181h3M270 181h1M263 182h4M462 182h2M467 182h1M462 183h7M462 184h10M462 185h9M462 186h5M468 186h3M463 187h4M468 187h2M460 188h1M462 188h9M499 188h1M457 189h9M467 189h4M496 189h4M456 190h10M467 190h5M475 190h1M495 190h4M456 191h20M494 191h5M210 192h1M454 192h13M469 192h6M494 192h6M209 193h2M453 193h14M469 193h5M493 193h7M209 194h3M452 194h16M469 194h6M493 194h7M208 195h6M452 195h1M455 195h4M462 195h6M469 195h3M473 195h2M494 195h6M207 196h7M456 196h3M462 196h9M473 196h2M495 196h5M206 197h8M456 197h3M462 197h9M473 197h2M495 197h6M206 198h10M217 198h1M451 198h7M462 198h9M473 198h2M495 198h5M204 199h14M452 199h22M495 199h5M204 200h13M453 200h19M495 200h5M204 201h12M456 201h7M464 201h9M474 201h2M495 201h4M204 202h11M457 202h5M466 202h9M203 203h12M458 203h3M467 203h2M470 203h4M203 204h12M459 204h1M471 204h2M205 205h4M210 205h3M460 205h1M464 205h2M472 205h1M205 206h4M211 206h3M460 206h2M464 206h2M205 207h4M211 207h3M467 207h1M211 208h4M467 208h2M211 209h2M216 209h1M211 210h2M211 211h3M211 212h4M212 213h1M424 221h1M424 228h2M424 229h3M425 230h1M420 231h1M412 232h2M433 232h1M412 233h2M413 234h3M413 237h1M442 237h1M410 238h1M413 238h2M434 240h5M433 241h7M406 242h1M434 242h5M425 243h4M436 243h3M425 244h1M436 244h3M449 244h3M424 245h2M432 245h2M438 245h1M449 245h1M420 246h2M424 246h1M432 246h2M420 247h2M424 247h1M432 247h3M451 247h1M411 248h4M424 248h1M431 248h5M451 248h1M409 249h1M430 249h7M409 250h1M430 250h3M434 250h2M410 251h2M439 251h2M449 251h1M440 252h2M424 253h2M428 253h2M424 254h6M440 254h1M424 255h6M433 255h2M441 255h1M423 256h4M432 256h3M423 257h4M428 257h1M432 257h2M424 258h5M432 258h1M425 259h4M416 260h1M425 260h3M439 260h2M417 261h2M442 261h2M417 262h3M442 262h2M418 263h1M427 263h2M426 264h1M425 265h2M425 266h1M420 269h1M420 270h1M189 283h4M189 284h1M191 284h1M194 285h1M185 286h1M258 286h3M185 287h2M258 287h3M262 287h2M187 288h1M258 288h7M258 289h6M258 290h6M194 291h2M258 291h6M191 292h1M195 292h1M259 292h6M191 293h1M194 293h1M247 293h6M261 293h4M193 294h2M247 294h6M256 294h3M194 295h1M247 295h2M250 295h3M255 295h3M668 295h2M250 296h3M256 296h1M664 296h2M668 296h6M666 297h9M664 298h10M664 299h3M668 299h6M195 300h3M663 300h3M669 300h5M675 300h2M195 301h6M663 301h4M669 301h5M675 301h1M195 302h6M664 302h4M671 302h3M196 303h5M665 303h4M672 303h1M198 304h4M205 304h1M665 304h4M199 305h2M203 305h4M243 305h1M199 306h2M203 306h5M242 306h2M246 306h2M193 307h1M198 307h3M202 307h6M242 307h2M246 307h2M192 308h8M202 308h4M246 308h2M192 309h15M245 309h3M193 310h14M245 310h3M193 311h13M245 311h2M193 312h13M193 313h12M192 314h6M200 314h4M192 315h3M196 315h2M202 315h2M195 316h4M201 316h2M195 317h4M201 317h2M281 317h2M195 318h4M269 318h3M282 318h1M269 319h4M281 319h1M269 320h3M270 321h4M265 322h3M270 322h4M487 322h1M264 323h4M269 323h2M488 323h6M263 324h2M269 324h1M489 324h11M263 325h2M489 325h17M258 326h1M265 326h1M281 326h1M490 326h16M258 327h1M279 327h3M498 327h8M279 328h3M303 328h1M505 328h1M270 329h2M273 329h4M280 329h2M303 329h1M269 330h8M280 330h1M269 331h7M280 331h1M270 332h6M280 332h1M271 333h5M271 334h2M305 334h1M586 334h5M272 335h1M304 335h3M582 335h1M584 335h8M272 336h1M303 336h6M582 336h1M584 336h8M302 337h1M305 337h4M584 337h9M305 338h3M582 338h12M301 339h1M305 339h2M581 339h13M297 340h6M581 340h2M585 340h9M297 341h7M585 341h8M302 342h2M585 342h7M302 343h2M563 343h1M584 343h8M299 344h1M301 344h2M562 344h6M584 344h7M299 345h4M307 345h1M562 345h7M584 345h6M301 346h2M562 346h10M584 346h5M563 347h8M585 347h3M563 348h3M567 348h3M585 348h3M306 349h1M310 349h1M412 349h1M564 349h3M568 349h2M586 349h1M306 350h1M404 350h9M565 350h1M569 350h1M609 350h3M404 351h9M609 351h4M405 352h8M608 352h5M405 353h8M607 353h4M306 354h1M607 354h3M613 354h2M610 355h5M610 356h5M302 357h1M605 357h1M610 357h5M611 358h4M611 359h4M299 360h2M304 360h2M609 360h5M304 361h2M609 361h5M609 362h4M197 364h1M196 365h2M196 366h1M195 367h3M194 368h5M194 369h4M193 370h5M194 371h4M194 372h4M195 373h2M196 374h1M199 374h3M593 374h2M200 375h2M593 375h2M593 376h3M592 377h5M591 378h6M591 379h4M473 380h7M591 380h4M472 381h10M589 381h6M471 382h11M591 382h3M470 383h12M589 383h5M470 384h12M589 384h5M474 385h7M589 385h4M589 386h5M589 387h5M589 388h1M592 388h2M592 389h2M595 389h1M594 390h2M590 393h1M409 402h1M411 407h2M410 408h6M410 409h6M405 410h5M412 410h3M405 411h5M408 412h3M415 412h1M408 413h3M414 413h1M414 414h1M527 440h2M561 440h2M526 441h3M561 441h2M527 442h3M527 443h4M559 443h1M566 443h1M527 444h4M558 444h2M565 444h1M527 445h3M558 445h3M562 445h2M527 446h1M562 446h2M563 447h1M530 449h1M528 450h2M528 451h2M589 451h2M475 453h2M484 453h2M591 453h1M474 454h4M483 454h3M590 454h2M474 455h5M483 455h3M589 455h3M476 456h5M490 456h1M587 456h5M476 457h6M485 457h1M488 457h3M584 457h1M587 457h5M477 458h6M485 458h7M540 458h1M587 458h1M589 458h1M600 458h1M471 459h2M479 459h4M484 459h8M540 459h1M599 459h2M467 460h3M472 460h1M480 460h13M539 460h2M588 460h4M599 460h1M466 461h5M472 461h3M481 461h11M539 461h3M587 461h1M590 461h2M466 462h14M482 462h2M486 462h2M539 462h3M587 462h1M591 462h2M466 463h14M482 463h1M485 463h3M531 463h3M538 463h4M581 463h3M587 463h1M591 463h2M600 463h1M467 464h13M483 464h6M531 464h4M537 464h2M541 464h1M584 464h2M590 464h2M600 464h1M470 465h20M534 465h1M541 465h2M584 465h3M589 465h3M471 466h6M479 466h11M534 466h2M541 466h2M588 466h3M471 467h19M533 467h3M542 467h1M589 467h1M471 468h19M530 468h6M542 468h3M589 468h1M470 469h20M530 469h9M541 469h5M470 470h6M477 470h9M489 470h1M530 470h16M469 471h6M478 471h2M481 471h5M489 471h1M531 471h15M468 472h7M482 472h4M532 472h14M468 473h18M531 473h16M469 474h4M474 474h12M532 474h14M470 475h16M532 475h11M472 476h10M534 476h9M475 477h1M477 477h4M534 477h4M539 477h3M476 478h4M534 478h3M539 478h2M535 479h2M538 479h3M536 480h5M536 481h7M536 482h6M536 483h5M535 484h3M536 485h1M634 493h2M634 494h1M638 495h3M642 495h1M632 496h3M637 496h7M630 497h9M641 497h3M628 498h11M641 498h2M627 499h3M634 499h6M627 500h2M632 500h1M639 500h3M648 500h3M627 501h2M631 501h3M639 501h4M648 501h3M631 502h3M639 502h2M647 502h1M629 503h3M644 503h3M628 504h4M644 504h6M628 505h5M644 505h1M647 505h1M614 507h1M626 507h1M642 507h1M613 508h3M647 508h1M583 509h1M601 509h2M615 509h1M630 509h1M582 510h2M598 510h1M601 510h2M644 510h2M648 510h1M597 511h3M601 511h2M642 511h4M598 512h4M612 512h1M641 512h6M598 513h4M608 513h1M640 513h8M576 514h2M596 514h1M598 514h1M601 514h1M606 514h4M633 514h3M640 514h5M606 515h2M640 515h2M584 516h3M606 516h2M618 516h2M632 516h1M640 516h2M645 516h1M580 517h2M583 517h4M611 517h1M615 517h1M618 517h2M632 517h3M639 517h3M644 517h2M570 518h1M579 518h8M598 518h2M603 518h1M611 518h1M614 518h5M640 518h5M566 519h2M579 519h3M597 519h4M602 519h6M611 519h1M614 519h4M640 519h6M565 520h4M578 520h3M598 520h3M605 520h2M610 520h3M615 520h3M640 520h5M564 521h4M579 521h2M596 521h2M599 521h3M605 521h1M610 521h2M614 521h4M564 522h4M595 522h7M615 522h2M564 523h5M571 523h2M595 523h6M608 523h3M615 523h3M563 524h6M583 524h1M609 524h13M563 525h6M577 525h1M610 525h12M563 526h4M570 526h2M577 526h2M597 526h1M610 526h9M620 526h2M564 527h3M569 527h5M576 527h3M597 527h1M610 527h2M616 527h3M565 528h3M569 528h13M596 528h2M618 528h2M564 529h4M572 529h10M619 529h2M563 530h5M572 530h8M582 530h1M619 530h2M563 531h6M572 531h4M577 531h2M618 531h1M562 532h5M570 532h1M578 532h1M617 532h1M562 533h4M581 533h1M616 533h2M562 534h3M581 534h1M616 534h1M565 538h2M570 538h4M606 538h2M565 539h3M570 539h4M606 539h3M565 540h3M571 540h2M605 540h1M564 541h3M571 541h1M605 541h2M499 542h1M564 542h1M570 542h2M576 542h1M564 543h1M570 543h1M504 544h1M570 544h1M578 544h1M504 545h2M577 545h3M504 546h2M577 546h2M581 550h3M581 551h3M582 552h1M574 555h6M492 556h4M575 556h1M577 556h3M492 557h4M501 557h2M578 557h2M492 558h5M500 558h1M492 559h5M491 560h6M490 561h5M490 562h4M504 562h3M509 562h1M505 563h5M506 564h6M508 565h2M492 567h1M493 568h1M492 569h3M497 569h1M492 570h1M494 571h1M494 572h4M495 573h3M496 574h2M502 574h1M501 575h3M502 576h2M497 577h1M503 577h1M497 578h2M503 578h1M497 579h3M399 583h3M397 584h6M407 584h1M396 585h7M406 585h1M395 586h8M410 586h1M395 587h8M395 588h8M407 588h2M395 589h8M404 589h6M395 590h15M395 591h7M403 591h4M409 591h1M399 592h2M403 592h3M409 592h1M401 593h1M409 593h1M400 594h1"/>
<path stroke="#32c814" d="M366 144h2M362 145h7M360 146h9M360 147h10M360 148h9M361 149h8M362 150h4M363 151h2M266 177h3M273 177h2M276 177h2M265 178h15M264 179h18M265 180h5M271 180h11M266 181h4M271 181h11M267 182h3M271 182h10M267 183h6M274 183h6M266 184h7M275 184h1M278 184h1M266 185h7M268 186h4M583 218h2M582 219h4M575 220h4M582 220h4M575 221h4M582 221h4M576 222h3M581 222h5M577 223h9M580 224h1M582 224h3M209 234h2M207 235h3M206 236h3M570 236h1M205 237h4M569 237h7M206 238h3M214 238h3M569 238h7M208 239h7M569 239h7M207 240h1M211 240h4M569 240h6M206 241h2M211 241h5M569 241h5M209 242h7M209 243h7M212 244h3M211 245h4M585 245h1M582 246h5M581 247h6M581 248h6M581 249h5M581 250h6M582 251h5M583 252h5M276 257h2M284 257h4M275 258h14M274 259h17M292 259h1M275 260h17M275 261h7M283 261h8M568 261h1M193 262h7M205 262h1M281 262h1M285 262h3M568 262h1M191 263h9M568 263h1M190 264h9M190 265h9M189 266h11M201 266h1M203 266h2M185 267h1M189 267h2M192 267h15M208 267h2M185 268h3M192 268h11M204 268h5M185 269h4M192 269h8M201 269h1M205 269h3M186 270h3M193 270h6M206 270h3M194 271h5M207 271h2M193 272h5M200 272h2M208 272h2M215 272h3M189 273h1M193 273h5M209 273h1M216 273h3M192 274h3M196 274h1M216 274h4M191 275h3M215 275h5M189 276h6M196 276h1M207 276h1M215 276h6M189 277h11M207 277h1M212 277h1M216 277h6M188 278h14M206 278h3M211 278h3M217 278h1M220 278h2M187 279h5M195 279h7M206 279h8M217 279h5M224 279h1M187 280h4M195 280h20M216 280h9M227 280h3M188 281h3M193 281h12M206 281h5M213 281h5M220 281h3M227 281h2M186 282h2M190 282h1M193 282h11M206 282h4M215 282h3M220 282h2M185 283h4M193 283h12M206 283h5M216 283h2M225 283h2M185 284h3M190 284h1M193 284h18M217 284h1M226 284h1M185 285h2M192 285h2M197 285h13M211 285h2M216 285h3M193 286h2M199 286h20M193 287h2M196 287h1M199 287h11M211 287h6M191 288h1M196 288h9M206 288h3M212 288h5M191 289h3M196 289h8M206 289h4M212 289h5M191 290h13M206 290h5M213 290h1M216 290h1M191 291h3M196 291h9M206 291h5M213 291h1M216 291h4M192 292h3M196 292h9M207 292h4M213 292h1M216 292h4M192 293h2M198 293h7M207 293h4M213 293h6M188 294h1M191 294h2M201 294h1M204 294h1M207 294h3M214 294h3M188 295h2M192 295h1M203 295h2M207 295h2M211 295h1M213 295h4M218 295h1M201 296h3M211 296h9M202 297h2M211 297h9M208 298h1M212 298h7M203 299h2M212 299h2M215 299h4M202 300h4M210 300h1M216 300h3M201 301h5M210 301h1M217 301h4M201 302h5M209 302h2M219 302h2M201 303h5M219 303h2M202 304h3M211 310h1M210 311h5M210 312h7M205 313h2M208 313h3M212 313h5M220 313h2M188 314h2M198 314h2M204 314h7M212 314h6M219 314h3M187 315h3M195 315h1M198 315h4M204 315h7M212 315h10M235 315h1M237 315h1M186 316h3M192 316h3M199 316h2M203 316h8M212 316h10M225 316h3M236 316h4M245 316h1M186 317h3M191 317h4M199 317h2M203 317h20M225 317h6M235 317h5M241 317h1M245 317h1M184 318h2M191 318h4M199 318h12M213 318h9M225 318h1M235 318h8M245 318h1M184 319h3M193 319h18M213 319h10M235 319h2M238 319h5M245 319h2M185 320h1M193 320h17M214 320h9M233 320h4M239 320h4M246 320h2M192 321h18M214 321h8M235 321h3M239 321h3M246 321h2M189 322h22M214 322h7M229 322h2M236 322h2M240 322h2M246 322h2M189 323h22M214 323h5M229 323h2M235 323h4M184 324h1M189 324h22M213 324h2M217 324h8M228 324h3M235 324h4M183 325h2M188 325h4M195 325h15M212 325h3M217 325h8M227 325h12M240 325h2M183 326h2M188 326h3M195 326h2M200 326h1M202 326h8M218 326h19M240 326h2M254 326h1M182 327h3M188 327h4M193 327h2M200 327h11M223 327h2M226 327h10M240 327h2M182 328h5M189 328h6M201 328h3M205 328h6M226 328h5M232 328h2M247 328h1M184 329h2M190 329h4M202 329h1M208 329h1M226 329h2M246 329h2M250 329h1M253 329h2M188 330h5M249 330h8M187 331h5M229 331h2M244 331h2M249 331h8M186 332h6M202 332h1M205 332h4M229 332h2M233 332h1M239 332h2M244 332h14M260 332h1M185 333h7M205 333h6M217 333h1M232 333h3M239 333h2M246 333h11M260 333h1M185 334h7M205 334h7M213 334h5M226 334h2M232 334h3M239 334h5M245 334h12M260 334h3M270 334h1M318 334h1M322 334h2M187 335h5M198 335h1M206 335h14M224 335h4M231 335h5M237 335h14M252 335h5M260 335h5M269 335h3M189 336h3M198 336h1M201 336h3M210 336h10M223 336h12M236 336h15M254 336h2M261 336h5M268 336h4M191 337h1M199 337h6M210 337h10M222 337h12M236 337h11M248 337h3M260 337h5M267 337h6M324 337h1M187 338h5M199 338h7M208 338h11M221 338h29M260 338h3M266 338h6M274 338h1M315 338h1M321 338h4M188 339h7M199 339h7M208 339h11M221 339h28M260 339h2M266 339h6M273 339h2M315 339h1M321 339h4M187 340h8M200 340h6M209 340h5M215 340h3M221 340h28M261 340h2M264 340h5M271 340h5M321 340h4M187 341h2M190 341h8M200 341h6M211 341h6M221 341h28M261 341h7M272 341h7M322 341h3M190 342h16M211 342h3M215 342h2M221 342h8M230 342h1M233 342h16M261 342h2M264 342h3M272 342h7M190 343h16M211 343h7M221 343h3M225 343h2M230 343h19M251 343h2M273 343h6M189 344h18M210 344h8M222 344h6M231 344h18M251 344h3M265 344h3M272 344h5M188 345h20M210 345h8M221 345h5M231 345h17M251 345h8M261 345h1M263 345h13M188 346h19M209 346h6M217 346h8M232 346h16M252 346h25M319 346h2M189 347h22M219 347h2M222 347h3M227 347h1M231 347h17M253 347h19M319 347h4M191 348h20M222 348h3M229 348h19M254 348h18M318 348h5M192 349h1M194 349h10M205 349h6M214 349h1M221 349h3M231 349h17M254 349h20M317 349h7M336 349h1M193 350h15M209 350h2M213 350h3M218 350h1M225 350h4M231 350h18M255 350h22M317 350h10M334 350h5M193 351h2M197 351h11M209 351h7M217 351h2M225 351h4M231 351h8M242 351h7M257 351h3M262 351h7M272 351h2M275 351h2M318 351h8M330 351h11M187 352h1M198 352h18M224 352h2M228 352h1M234 352h6M241 352h9M255 352h3M264 352h3M272 352h2M319 352h1M321 352h4M330 352h12M187 353h1M199 353h16M218 353h3M224 353h2M228 353h3M238 353h13M254 353h3M272 353h1M330 353h12M193 354h3M198 354h17M218 354h4M224 354h1M228 354h3M239 354h2M243 354h8M254 354h3M330 354h11M193 355h4M198 355h16M216 355h8M227 355h3M232 355h2M238 355h3M243 355h10M254 355h4M259 355h3M265 355h5M330 355h5M336 355h2M190 356h24M216 356h3M221 356h2M226 356h2M231 356h3M238 356h26M266 356h2M332 356h3M191 357h1M194 357h20M216 357h3M220 357h4M226 357h3M231 357h7M240 357h24M338 357h2M196 358h18M216 358h9M226 358h3M231 358h7M240 358h16M257 358h8M198 359h16M217 359h12M231 359h10M242 359h14M257 359h8M198 360h8M208 360h2M218 360h46M198 361h6M217 361h10M229 361h12M243 361h20M198 362h6M217 362h16M235 362h6M243 362h19M197 363h8M218 363h5M224 363h10M235 363h2M238 363h4M243 363h10M260 363h1M280 363h1M198 364h5M205 364h1M218 364h6M225 364h12M239 364h10M251 364h3M279 364h2M198 365h5M205 365h1M219 365h18M239 365h9M251 365h4M278 365h2M283 365h3M289 365h1M197 366h6M220 366h18M240 366h9M250 366h5M277 366h4M283 366h3M290 366h1M198 367h5M220 367h33M278 367h4M283 367h2M290 367h2M199 368h6M220 368h17M238 368h11M279 368h5M290 368h1M293 368h2M296 368h1M198 369h8M219 369h10M230 369h18M280 369h6M293 369h6M198 370h10M217 370h11M231 370h17M276 370h1M281 370h6M291 370h9M192 371h1M198 371h10M218 371h10M231 371h18M276 371h1M280 371h7M291 371h9M192 372h1M198 372h10M218 372h8M227 372h1M231 372h18M279 372h8M288 372h9M300 372h5M192 373h1M197 373h12M216 373h34M278 373h19M299 373h1M306 373h1M193 374h2M197 374h2M202 374h8M214 374h36M278 374h17M297 374h3M306 374h1M193 375h7M202 375h9M212 375h1M214 375h36M277 375h26M306 375h2M193 376h41M238 376h13M278 376h25M306 376h2M193 377h35M231 377h3M239 377h11M278 377h27M306 377h1M193 378h8M202 378h25M231 378h4M236 378h2M240 378h8M278 378h19M300 378h3M195 379h21M223 379h4M231 379h8M242 379h5M278 379h19M300 379h2M195 380h14M213 380h3M222 380h6M231 380h3M279 380h19M190 381h21M214 381h5M222 381h6M231 381h3M279 381h19M190 382h11M203 382h8M216 382h2M221 382h3M225 382h4M232 382h3M240 382h1M279 382h3M286 382h12M299 382h1M190 383h7M203 383h4M226 383h9M239 383h2M289 383h8M190 384h7M203 384h3M226 384h5M290 384h7M190 385h7M202 385h6M292 385h6M189 386h8M201 386h8M295 386h3M189 387h7M200 387h9M188 388h9M199 388h7M188 389h19M188 390h18M190 391h16M187 392h2M190 392h15M186 393h3M193 393h12M182 394h7M192 394h1M194 394h11M181 395h7M190 395h15M171 396h1M181 396h6M193 396h7M202 396h3M168 397h4M180 397h8M193 397h8M203 397h1M165 398h2M168 398h6M179 398h12M192 398h9M165 399h9M179 399h19M165 400h32M165 401h22M189 401h7M166 402h22M189 402h6M165 403h22M190 403h2M165 404h22M189 404h2M166 405h17M184 405h2M189 405h2M167 406h19M189 406h1M167 407h22M166 408h14M182 408h7M165 409h4M170 409h10M181 409h5M165 410h3M170 410h14M164 411h5M170 411h13M164 412h19M165 413h15M181 413h2M166 414h1M168 414h11M166 415h12M166 416h1M173 416h3M388 440h2M405 443h1M408 443h2M415 443h1M405 444h1M405 445h1M417 445h1M417 446h1M423 451h2M430 451h2M424 452h2M430 452h1M385 453h1M424 453h2M374 454h1M385 454h2M374 455h2M385 455h2M374 456h3M381 456h1M385 456h1M376 457h1M380 457h3M380 458h3M380 459h2M405 460h1M381 461h1M404 461h1M184 462h1M199 462h2M380 462h3M400 462h1M404 462h1M199 463h4M240 463h1M380 463h4M400 463h2M409 463h1M182 464h1M200 464h3M240 464h1M380 464h3M180 465h4M201 465h2M381 465h1M410 465h1M437 465h1M181 466h3M200 466h1M238 466h1M408 466h2M187 467h2M198 467h2M231 467h1M187 468h1M231 468h2M239 468h1M379 468h2M176 469h1M181 469h3M186 469h3M232 469h2M378 469h2M176 470h2M182 470h2M234 470h3M377 470h3M176 471h1M179 471h5M187 471h3M194 471h1M233 471h5M241 471h3M377 471h2M179 472h5M186 472h9M228 472h2M232 472h3M236 472h9M393 472h1M177 473h1M179 473h3M186 473h10M208 473h1M215 473h1M228 473h1M233 473h2M238 473h4M244 473h3M170 474h1M172 474h2M179 474h3M186 474h11M207 474h3M213 474h2M233 474h2M239 474h3M244 474h3M375 474h1M172 475h2M177 475h1M186 475h3M193 475h4M198 475h1M206 475h4M213 475h3M219 475h5M232 475h5M242 475h1M244 475h4M250 475h4M177 476h2M193 476h6M206 476h5M212 476h6M219 476h5M225 476h1M230 476h1M232 476h6M241 476h7M250 476h4M257 476h1M176 477h4M193 477h6M206 477h1M209 477h10M221 477h7M229 477h9M242 477h6M249 477h5M160 478h1M176 478h4M194 478h1M197 478h3M206 478h13M220 478h3M225 478h5M233 478h6M242 478h9M252 478h1M160 479h2M178 479h3M194 479h6M206 479h12M219 479h5M225 479h5M233 479h6M243 479h7M251 479h2M409 479h2M160 480h3M179 480h4M194 480h5M203 480h20M225 480h5M234 480h4M240 480h14M257 480h3M409 480h3M160 481h4M179 481h5M196 481h3M203 481h20M227 481h4M240 481h4M245 481h9M257 481h2M410 481h4M161 482h2M184 482h1M189 482h4M197 482h1M202 482h12M218 482h14M240 482h4M245 482h3M257 482h1M261 482h1M162 483h1M184 483h1M187 483h11M202 483h12M216 483h17M240 483h4M260 483h4M172 484h1M183 484h8M193 484h4M205 484h8M216 484h11M240 484h4M245 484h1M260 484h3M377 484h2M171 485h4M176 485h2M183 485h8M194 485h3M204 485h3M208 485h4M216 485h12M240 485h6M258 485h3M375 485h2M391 485h3M171 486h8M182 486h9M194 486h5M204 486h8M217 486h13M240 486h6M258 486h1M375 486h2M389 486h4M166 487h3M171 487h9M182 487h13M197 487h3M201 487h11M218 487h12M240 487h6M387 487h1M389 487h3M166 488h3M171 488h24M198 488h13M213 488h1M218 488h11M240 488h4M324 488h1M344 488h2M388 488h3M160 489h2M166 489h11M179 489h16M197 489h13M212 489h3M218 489h11M241 489h2M343 489h1M161 490h1M166 490h5M174 490h3M179 490h16M196 490h14M212 490h3M218 490h11M343 490h1M167 491h4M174 491h3M180 491h15M196 491h14M213 491h1M218 491h14M174 492h4M180 492h16M197 492h13M218 492h13M234 492h1M316 492h2M333 492h2M337 492h3M353 492h1M357 492h2M167 493h2M173 493h2M177 493h13M192 493h2M197 493h13M218 493h13M234 493h2M315 493h2M333 493h2M337 493h3M344 493h2M357 493h1M398 493h2M167 494h2M177 494h13M192 494h1M196 494h14M217 494h19M334 494h1M336 494h4M344 494h3M349 494h3M356 494h2M362 494h2M169 495h2M175 495h1M180 495h5M187 495h4M196 495h14M216 495h2M220 495h2M223 495h14M274 495h2M338 495h3M350 495h2M356 495h2M361 495h2M395 495h1M170 496h1M175 496h2M180 496h2M183 496h2M189 496h2M196 496h13M216 496h2M226 496h11M240 496h4M264 496h1M270 496h5M339 496h2M350 496h2M357 496h2M361 496h1M174 497h11M189 497h9M199 497h2M203 497h5M215 497h2M227 497h1M231 497h7M239 497h6M259 497h1M269 497h5M339 497h1M350 497h3M356 497h3M436 497h1M173 498h12M190 498h8M199 498h13M223 498h1M233 498h7M242 498h4M259 498h2M269 498h2M344 498h1M348 498h2M358 498h1M392 498h2M437 498h1M172 499h7M181 499h5M187 499h1M191 499h6M199 499h14M222 499h3M230 499h1M233 499h8M242 499h3M258 499h3M269 499h2M391 499h2M397 499h3M438 499h3M172 500h7M182 500h6M193 500h3M200 500h1M202 500h11M222 500h5M230 500h6M237 500h3M242 500h3M258 500h3M269 500h2M390 500h3M395 500h4M439 500h2M175 501h14M194 501h2M202 501h13M224 501h5M230 501h5M237 501h3M242 501h3M259 501h5M269 501h3M337 501h2M390 501h3M394 501h3M400 501h2M439 501h2M177 502h11M193 502h4M199 502h20M224 502h15M241 502h4M249 502h1M258 502h5M265 502h1M270 502h2M334 502h5M387 502h6M394 502h3M400 502h1M440 502h1M177 503h14M193 503h2M199 503h19M224 503h15M241 503h6M248 503h3M265 503h1M269 503h4M304 503h2M334 503h4M371 503h2M387 503h10M399 503h1M178 504h17M202 504h14M225 504h14M242 504h8M252 504h1M260 504h2M269 504h4M300 504h2M304 504h3M308 504h1M333 504h4M369 504h6M387 504h13M405 504h1M409 504h1M178 505h18M202 505h15M225 505h14M243 505h8M252 505h2M259 505h3M269 505h1M273 505h1M298 505h4M305 505h5M326 505h4M333 505h2M336 505h2M351 505h2M370 505h2M386 505h5M392 505h8M405 505h1M408 505h3M178 506h14M193 506h2M197 506h2M202 506h15M225 506h14M243 506h8M253 506h1M260 506h1M298 506h5M306 506h4M326 506h3M337 506h2M351 506h1M366 506h3M371 506h1M386 506h5M392 506h5M401 506h4M409 506h2M179 507h16M198 507h2M201 507h17M225 507h7M233 507h4M238 507h1M243 507h1M247 507h4M253 507h1M255 507h2M298 507h2M301 507h1M306 507h2M327 507h1M336 507h4M348 507h2M366 507h3M370 507h2M375 507h1M384 507h9M401 507h4M409 507h1M179 508h16M199 508h20M225 508h6M233 508h4M238 508h2M241 508h3M248 508h1M252 508h6M270 508h3M278 508h1M298 508h3M327 508h1M332 508h3M336 508h3M345 508h1M348 508h2M367 508h26M403 508h2M409 508h1M181 509h6M192 509h27M226 509h18M253 509h6M269 509h5M327 509h11M347 509h4M367 509h4M372 509h16M389 509h4M397 509h3M409 509h2M182 510h5M193 510h25M235 510h9M253 510h6M273 510h1M295 510h1M328 510h8M348 510h4M368 510h3M372 510h14M387 510h5M396 510h4M410 510h2M184 511h3M189 511h1M193 511h2M196 511h23M225 511h5M235 511h6M253 511h4M258 511h1M277 511h1M295 511h2M298 511h2M330 511h7M349 511h4M370 511h1M372 511h14M387 511h3M398 511h2M186 512h1M190 512h1M196 512h25M227 512h4M235 512h3M253 512h3M258 512h1M273 512h2M276 512h2M281 512h3M295 512h6M321 512h2M330 512h7M351 512h3M371 512h2M375 512h10M387 512h2M399 512h1M433 512h2M191 513h1M195 513h5M201 513h16M219 513h2M227 513h5M235 513h2M257 513h2M273 513h2M276 513h1M295 513h1M298 513h2M317 513h7M332 513h5M351 513h3M367 513h1M371 513h9M383 513h1M387 513h6M399 513h3M432 513h3M436 513h3M192 514h1M195 514h4M202 514h14M226 514h6M257 514h1M276 514h1M290 514h1M317 514h4M323 514h3M334 514h3M349 514h5M367 514h1M370 514h7M383 514h2M388 514h8M397 514h7M431 514h2M435 514h3M196 515h14M212 515h2M217 515h2M220 515h4M225 515h8M239 515h3M278 515h1M289 515h3M317 515h4M324 515h1M330 515h2M334 515h3M351 515h3M370 515h7M383 515h2M395 515h10M431 515h2M435 515h2M197 516h8M207 516h3M217 516h1M221 516h4M227 516h19M266 516h1M278 516h2M285 516h9M307 516h2M312 516h2M325 516h2M330 516h3M334 516h5M376 516h1M383 516h1M385 516h2M395 516h4M403 516h2M431 516h6M195 517h9M208 517h2M217 517h2M222 517h2M228 517h8M239 517h7M266 517h1M277 517h3M285 517h4M292 517h2M307 517h2M313 517h1M326 517h1M331 517h2M334 517h5M364 517h2M385 517h3M396 517h3M404 517h1M430 517h4M436 517h2M196 518h8M207 518h3M217 518h2M229 518h3M233 518h2M239 518h8M274 518h1M276 518h5M287 518h1M292 518h2M306 518h3M310 518h1M322 518h1M332 518h8M364 518h2M380 518h1M384 518h4M410 518h1M429 518h3M197 519h5M206 519h3M230 519h2M239 519h9M276 519h5M291 519h3M305 519h6M320 519h2M333 519h4M338 519h2M364 519h2M367 519h1M380 519h1M383 519h5M396 519h1M410 519h2M197 520h5M206 520h3M210 520h2M220 520h1M231 520h1M239 520h7M247 520h2M276 520h2M291 520h4M307 520h4M320 520h1M334 520h3M362 520h2M381 520h8M390 520h2M396 520h2M410 520h2M199 521h3M206 521h2M210 521h4M218 521h4M228 521h1M232 521h2M238 521h11M276 521h2M291 521h2M307 521h3M334 521h4M351 521h3M361 521h3M383 521h10M411 521h1M430 521h1M200 522h4M207 522h1M210 522h5M216 522h6M228 522h1M232 522h3M236 522h13M290 522h1M307 522h1M329 522h2M334 522h4M350 522h5M361 522h5M384 522h8M202 523h2M207 523h15M225 523h5M232 523h8M241 523h8M290 523h1M330 523h1M334 523h1M351 523h2M355 523h1M359 523h8M384 523h5M394 523h1M398 523h1M207 524h14M225 524h15M242 524h8M289 524h2M334 524h1M354 524h2M358 524h9M385 524h3M393 524h3M397 524h4M207 525h14M225 525h1M227 525h10M245 525h4M289 525h2M350 525h2M354 525h2M357 525h9M393 525h3M397 525h5M209 526h4M215 526h6M226 526h11M289 526h2M349 526h3M353 526h8M394 526h3M399 526h2M209 527h3M216 527h4M226 527h6M233 527h4M242 527h2M327 527h2M349 527h2M353 527h3M357 527h3M364 527h3M395 527h1M209 528h3M226 528h11M242 528h4M275 528h1M342 528h1M353 528h3M358 528h2M364 528h2M209 529h5M222 529h3M226 529h4M231 529h1M234 529h3M242 529h5M274 529h2M278 529h2M325 529h2M344 529h5M351 529h5M358 529h3M210 530h4M221 530h8M243 530h3M274 530h1M277 530h3M297 530h1M325 530h2M344 530h5M350 530h11M370 530h2M221 531h5M277 531h2M296 531h3M342 531h6M350 531h10M371 531h2M212 532h2M224 532h3M237 532h3M270 532h4M277 532h2M297 532h2M327 532h3M342 532h5M352 532h5M212 533h4M225 533h2M232 533h2M270 533h4M277 533h3M327 533h2M343 533h3M353 533h1M369 533h3M378 533h1M225 534h1M232 534h1M241 534h1M271 534h3M277 534h4M324 534h3M343 534h1M369 534h3M378 534h2M215 535h1M241 535h1M271 535h3M279 535h4M324 535h2M352 535h1M369 535h3M375 535h4M215 536h1M233 536h3M269 536h1M272 536h2M279 536h5M299 536h1M344 536h4M352 536h1M368 536h10M224 537h1M233 537h3M245 537h2M268 537h3M280 537h5M343 537h5M367 537h7M375 537h2M223 538h2M233 538h3M250 538h1M267 538h3M284 538h1M306 538h1M343 538h4M367 538h8M223 539h1M250 539h1M267 539h1M338 539h1M351 539h2M368 539h8M245 540h2M250 540h1M285 540h2M328 540h1M338 540h1M351 540h2M367 540h8M245 541h3M285 541h3M328 541h3M339 541h2M367 541h8M245 542h2M288 542h1M328 542h3M339 542h3M344 542h1M369 542h6M314 543h2M327 543h3M337 543h5M343 543h4M348 543h1M361 543h2M369 543h7M314 544h2M326 544h2M333 544h8M343 544h6M369 544h2M230 545h1M314 545h2M327 545h1M330 545h3M334 545h15M314 546h1M325 546h7M334 546h3M339 546h10M311 547h5M325 547h7M339 547h10M307 548h2M311 548h6M327 548h4M337 548h1M342 548h1M345 548h3M306 549h4M315 549h4M342 549h1M345 549h3M306 550h4M316 550h4M338 550h5M345 550h3M363 550h2M308 551h2M317 551h3M337 551h11M370 551h2M382 551h1M309 552h1M337 552h9M370 552h2M336 553h1M339 553h5M362 553h1M365 553h2M370 553h2M315 554h1M336 554h1M346 554h4M356 554h1M365 554h6M314 555h3M335 555h1M345 555h4M356 555h2M314 556h2M345 556h4M356 556h1M314 557h1M318 557h2M338 557h1M345 557h3M356 557h1M316 558h1M318 558h3M346 558h1M320 559h1M346 559h2M353 559h2M346 560h2M353 560h2M346 561h1M351 561h1M354 561h1M353 562h2M338 563h1M350 563h6M359 563h3M349 564h8M358 564h5M349 565h3M354 565h8M350 566h2M355 566h5M347 567h4M355 567h5M347 568h4M357 568h3M348 569h3M350 570h1M366 577h1M365 578h3"/>
<path stroke="#96e61e" d="M500 277h2M489 278h3M500 278h2M489 279h3M500 279h5M489 280h2M495 280h1M500 280h5M487 281h2M495 281h2M498 281h5M487 282h3M495 282h7M488 283h3M492 283h2M496 283h6M488 284h7M496 284h4M501 284h1M489 285h13M491 286h6M411 288h3M412 289h2M546 289h2M542 290h7M542 291h7M545 292h2M542 293h1M542 294h2M545 294h3M545 295h3M545 296h2M544 297h3M545 298h2M547 300h3M701 359h4M711 359h3M700 360h6M710 360h5M700 361h6M709 361h6M701 362h6M709 362h6M701 363h1M704 363h11M667 364h3M698 364h4M706 364h9M667 365h4M698 365h5M707 365h6M667 366h4M697 366h6M708 366h5M667 367h3M695 367h5M708 367h5M667 368h2M672 368h1M695 368h4M707 368h6M667 369h3M672 369h2M680 369h3M698 369h1M709 369h3M667 370h3M672 370h2M679 370h8M667 371h1M669 371h1M672 371h2M677 371h11M668 372h1M672 372h4M677 372h10M672 373h1M675 373h1M678 373h8M680 374h7M662 375h1M679 375h8M662 376h6M679 376h7M663 377h4M679 377h5M698 377h1M663 378h3M677 378h6M671 379h2M677 379h6M665 380h2M672 380h13M664 381h2M672 381h6M680 381h6M664 382h2M672 382h6M680 382h8M664 383h2M671 383h7M680 383h9M663 384h3M671 384h1M674 384h4M679 384h11M662 385h4M679 385h12M218 386h1M664 386h2M680 386h11M218 387h1M665 387h2M680 387h11M218 388h1M221 388h3M665 388h3M679 388h8M689 388h2M221 389h5M233 389h3M248 389h2M665 389h3M671 389h4M679 389h5M689 389h2M212 390h1M220 390h7M232 390h5M238 390h1M246 390h4M251 390h1M665 390h8M679 390h4M210 391h6M220 391h7M228 391h2M232 391h8M244 391h1M247 391h6M666 391h7M678 391h2M686 391h1M210 392h7M223 392h3M228 392h1M232 392h3M237 392h3M244 392h1M247 392h6M666 392h6M679 392h3M684 392h3M208 393h9M223 393h3M228 393h2M231 393h4M243 393h1M247 393h6M668 393h1M670 393h2M675 393h1M680 393h2M684 393h3M208 394h9M220 394h6M228 394h2M231 394h3M242 394h2M246 394h9M670 394h1M674 394h3M210 395h4M216 395h4M223 395h7M231 395h3M242 395h13M675 395h1M211 396h1M214 396h6M223 396h15M241 396h3M245 396h7M214 397h2M218 397h1M222 397h8M231 397h13M246 397h5M209 398h2M212 398h1M215 398h1M222 398h7M232 398h13M248 398h2M255 398h2M208 399h9M222 399h9M232 399h13M248 399h2M254 399h4M209 400h10M220 400h26M248 400h10M261 400h1M209 401h8M219 401h27M247 401h4M252 401h4M260 401h2M211 402h5M220 402h19M240 402h10M252 402h10M210 403h3M220 403h19M241 403h25M211 404h1M219 404h20M242 404h24M211 405h2M218 405h10M230 405h7M238 405h5M245 405h1M248 405h17M211 406h2M220 406h8M229 406h8M239 406h5M249 406h16M270 406h1M221 407h6M229 407h8M240 407h5M249 407h17M268 407h3M221 408h3M231 408h7M240 408h8M249 408h21M222 409h2M230 409h9M240 409h31M272 409h2M218 410h1M222 410h2M229 410h5M236 410h3M240 410h34M223 411h1M236 411h2M241 411h10M253 411h19M232 412h3M236 412h2M242 412h30M232 413h3M237 413h1M242 413h6M249 413h22M233 414h6M243 414h4M252 414h18M234 415h5M243 415h4M254 415h15M204 416h1M235 416h3M243 416h4M255 416h12M187 417h1M204 417h1M240 417h6M255 417h12M186 418h2M199 418h1M203 418h3M210 418h2M240 418h2M254 418h1M257 418h8M171 419h2M186 419h2M191 419h10M202 419h5M209 419h3M257 419h8M172 420h2M182 420h26M209 420h1M211 420h2M260 420h2M303 420h2M179 421h25M205 421h4M301 421h4M178 422h14M195 422h9M206 422h3M303 422h2M176 423h5M184 423h6M192 423h2M196 423h14M165 424h1M175 424h4M183 424h8M192 424h3M196 424h14M175 425h3M182 425h29M164 426h2M173 426h5M179 426h33M303 426h1M163 427h5M173 427h4M179 427h2M183 427h32M218 427h3M164 428h7M173 428h4M183 428h23M207 428h9M217 428h1M161 429h2M165 429h13M181 429h25M208 429h12M257 429h1M160 430h18M181 430h25M211 430h10M251 430h7M160 431h19M180 431h26M208 431h1M212 431h10M253 431h3M257 431h1M160 432h50M212 432h11M159 433h43M203 433h8M213 433h9M249 433h4M314 433h1M159 434h52M214 434h8M248 434h5M254 434h2M258 434h1M159 435h48M209 435h1M215 435h9M225 435h4M248 435h5M254 435h4M159 436h32M192 436h4M197 436h9M213 436h11M225 436h6M249 436h9M287 436h2M305 436h1M158 437h3M162 437h45M213 437h6M226 437h7M249 437h8M288 437h1M297 437h3M305 437h1M158 438h38M197 438h11M209 438h10M226 438h5M251 438h2M296 438h4M305 438h3M157 439h4M166 439h28M197 439h23M226 439h3M231 439h1M306 439h2M317 439h2M157 440h4M165 440h27M197 440h10M208 440h12M222 440h2M227 440h2M317 440h2M157 441h4M165 441h23M190 441h3M196 441h11M208 441h12M221 441h3M317 441h3M156 442h6M164 442h24M189 442h35M317 442h2M156 443h5M164 443h60M155 444h6M164 444h25M191 444h33M155 445h6M163 445h27M191 445h32M236 445h2M309 445h2M155 446h35M192 446h28M222 446h2M310 446h1M157 447h5M163 447h27M192 447h28M222 447h2M155 448h34M191 448h29M223 448h1M155 449h4M161 449h4M167 449h22M192 449h16M211 449h11M311 449h1M155 450h4M163 450h1M167 450h17M185 450h4M192 450h15M212 450h11M236 450h2M309 450h3M155 451h5M163 451h1M167 451h17M186 451h19M210 451h12M233 451h5M299 451h3M309 451h3M155 452h6M163 452h2M167 452h17M186 452h13M201 452h3M211 452h10M234 452h4M255 452h2M299 452h4M153 453h1M158 453h3M163 453h21M186 453h11M202 453h3M211 453h11M235 453h1M253 453h5M300 453h3M316 453h5M158 454h26M186 454h10M202 454h5M210 454h13M233 454h3M237 454h3M251 454h7M286 454h1M299 454h4M153 455h1M155 455h42M198 455h9M209 455h14M230 455h11M252 455h3M286 455h1M299 455h4M154 456h54M209 456h13M229 456h12M252 456h2M301 456h1M317 456h1M154 457h68M225 457h1M228 457h13M316 457h1M154 458h29M185 458h37M224 458h2M229 458h11M287 458h4M154 459h1M156 459h21M179 459h47M230 459h10M251 459h2M287 459h5M154 460h1M157 460h22M180 460h28M209 460h17M230 460h3M234 460h6M252 460h1M287 460h3M292 460h4M154 461h1M157 461h26M184 461h17M204 461h1M210 461h21M234 461h2M292 461h4M157 462h25M185 462h14M206 462h1M208 462h22M295 462h2M157 463h25M186 463h13M205 463h25M241 463h1M160 464h22M188 464h12M204 464h5M210 464h20M250 464h1M160 465h20M188 465h13M204 465h2M210 465h20M242 465h1M245 465h2M250 465h1M160 466h21M188 466h12M201 466h6M210 466h7M218 466h8M227 466h1M241 466h6M249 466h3M160 467h23M189 467h9M201 467h8M210 467h6M217 467h8M238 467h6M245 467h2M248 467h4M312 467h1M160 468h23M188 468h2M195 468h3M199 468h9M210 468h2M216 468h11M240 468h4M245 468h7M257 468h1M311 468h2M161 469h15M178 469h3M195 469h13M216 469h2M224 469h2M240 469h12M256 469h3M301 469h2M311 469h1M161 470h15M178 470h3M195 470h13M212 470h6M232 470h2M239 470h13M256 470h4M299 470h1M311 470h1M163 471h13M195 471h7M205 471h3M212 471h6M222 471h2M238 471h2M247 471h5M254 471h6M299 471h1M163 472h6M170 472h6M195 472h7M205 472h3M213 472h4M221 472h7M247 472h5M254 472h5M170 473h7M196 473h6M206 473h2M221 473h7M229 473h2M242 473h2M248 473h4M254 473h2M171 474h1M174 474h3M197 474h5M219 474h6M229 474h3M242 474h2M248 474h3M174 475h3M201 475h1M218 475h1M230 475h2M243 475h1M249 475h1M175 476h2M231 476h1"/>
<path stroke="#ffffff" d="M228 131h1M228 132h1M227 133h3M226 134h4M226 135h4M225 136h5M225 137h6M225 138h6M225 139h8M227 140h6M228 141h5M225 142h1M229 142h4M224 143h2M229 143h4M225 144h1M229 144h4M225 145h1M229 145h4M226 146h1M228 146h4M228 147h1M220 157h3M219 158h5M221 159h3M223 160h1M218 183h2M447 183h2M215 184h5M215 185h6M471 185h6M214 186h11M467 186h1M471 186h7M214 187h12M467 187h1M474 187h4M214 188h11M476 188h2M216 189h5M223 189h1M474 189h1M218 190h2M474 190h1M462 202h3M461 203h3M492 203h3M460 204h3M492 204h2M461 205h1M468 205h1M467 206h2M454 207h1M464 207h1M468 207h1M474 208h2M475 209h1M475 210h3M188 284h1M187 285h5M186 286h7M187 287h6M188 288h3M188 289h3M186 290h5M185 291h6M186 292h5M461 323h1M461 324h5M460 325h9M460 326h13M459 327h15M460 328h16M462 329h15M301 330h2M463 330h1M421 334h1M428 334h1M421 335h2M427 335h9M420 336h3M426 336h11M303 337h2M389 337h1M420 337h4M425 337h14M302 338h3M389 338h3M419 338h22M302 339h3M388 339h4M419 339h23M303 340h3M388 340h3M419 340h25M304 341h3M387 341h4M418 341h30M305 342h4M387 342h3M410 342h1M418 342h31M300 343h2M307 343h3M386 343h4M409 343h3M417 343h34M300 344h1M308 344h2M386 344h4M407 344h6M417 344h35M305 345h1M308 345h2M385 345h4M406 345h33M444 345h10M300 346h1M305 346h1M308 346h2M385 346h4M404 346h33M447 346h7M300 347h3M384 347h5M403 347h34M449 347h5M300 348h3M384 348h4M401 348h35M451 348h4M301 349h2M383 349h5M401 349h11M413 349h23M452 349h3M301 350h2M383 350h4M401 350h3M413 350h22M454 350h1M382 351h5M402 351h2M413 351h22M382 352h4M394 352h1M402 352h3M413 352h22M381 353h5M394 353h1M402 353h3M413 353h21M381 354h7M393 354h3M401 354h33M380 355h11M393 355h3M399 355h4M421 355h11M306 356h1M380 356h24M424 356h6M306 357h2M379 357h25M427 357h1M306 358h2M378 358h26M378 359h26M303 360h1M377 360h28M303 361h1M377 361h28M377 362h28M377 363h28M377 364h29M377 365h31M377 366h32M391 367h20M394 368h18M394 369h20M394 370h21M395 371h7M407 371h10M395 372h8M409 372h9M395 373h8M411 373h9M395 374h8M414 374h6M396 375h7M416 375h3M396 376h8M418 376h1M396 377h8M278 387h3M277 388h4M287 388h2M265 389h2M272 389h10M284 389h5M261 390h2M264 390h18M283 390h6M292 390h2M256 391h3M261 391h25M287 391h7M256 392h5M263 392h31M256 393h5M263 393h33M259 394h2M264 394h24M290 394h6M264 395h1M270 395h5M279 395h8M290 395h6M280 396h3M592 455h5M592 456h5M592 457h1M594 457h3M591 458h2M596 458h1M590 459h3M598 459h1M592 460h1M598 460h1M588 461h2M592 461h2M598 461h2M588 462h3M597 462h4M568 463h2M588 463h3M596 463h3M567 464h4M588 464h2M567 465h3M594 465h1M676 465h2M680 465h1M568 466h1M631 466h2M635 466h3M676 466h2M680 466h1M683 466h2M590 467h3M631 467h1M635 467h4M676 467h9M590 468h4M625 468h1M630 468h3M635 468h4M677 468h11M567 469h1M591 469h3M625 469h1M628 469h5M634 469h4M677 469h12M566 470h2M625 470h8M634 470h4M679 470h10M625 471h7M636 471h1M674 471h1M679 471h9M689 471h4M629 472h3M636 472h1M672 472h2M680 472h1M683 472h13M629 473h4M634 473h1M672 473h2M684 473h1M686 473h10M567 474h4M629 474h6M672 474h2M680 474h1M683 474h1M687 474h9M569 475h1M629 475h7M669 475h5M679 475h6M687 475h3M629 476h3M634 476h2M663 476h12M680 476h5M687 476h6M629 477h1M634 477h1M663 477h6M686 477h9M663 478h6M687 478h8M662 479h4M689 479h1M691 479h4M671 480h3M681 480h1M685 480h1M691 480h3M665 481h3M671 481h3M675 481h7M683 481h4M690 481h4M664 482h3M668 482h14M684 482h2M690 482h4M616 483h1M665 483h1M669 483h13M690 483h4M671 484h4M676 484h7M689 484h5M674 485h9M690 485h3M675 486h6M614 487h1M674 487h9M613 488h4M673 488h10M611 489h2M615 489h3M671 489h12M686 489h3M615 490h3M671 490h20M612 491h1M615 491h3M671 491h20M616 492h3M671 492h20M616 493h3M670 493h3M674 493h17M670 494h20M670 495h20M671 496h19M672 497h20M671 498h21M671 499h17M689 499h2M671 500h16M671 501h17M672 502h17M672 503h13M675 504h9M676 505h8M674 506h2M678 506h5M674 507h2M680 507h3M685 507h1M674 508h2M680 508h3M684 508h1M648 516h4M647 517h3M651 517h1M645 518h8M646 519h7M646 520h7M646 521h9M645 522h10M644 523h9M660 523h3M644 524h9M657 524h3M661 524h2M644 525h10M657 525h3M642 526h18M641 527h6M649 527h10M660 527h3M640 528h6M648 528h16M638 529h7M647 529h17M647 530h17M642 531h2M646 531h18M642 532h8M651 532h13M641 533h21M642 534h19M642 535h19M644 536h11M660 536h1M645 537h11M646 538h9M646 539h9M646 540h9M645 541h9M645 542h11M646 543h5M609 553h4M609 554h5M608 555h7M605 556h13M605 557h15M604 558h16M604 559h2M607 559h13M604 560h15M603 561h15M600 562h8M609 562h9M599 563h9M611 563h7M599 564h2M602 564h6M611 564h5M605 565h10M605 566h2M608 566h7M604 567h3M609 567h5M604 568h2M608 568h6M608 569h6M585 574h1M526 575h2M585 575h1M525 576h4M579 576h4M585 576h3M525 577h5M578 577h5M586 577h3M523 578h2M526 578h5M565 578h4M579 578h6M586 578h2M523 579h9M563 579h6M579 579h8M518 580h2M525 580h7M562 580h7M579 580h7M518 581h4M525 581h7M562 581h9M579 581h2M582 581h1M518 582h6M525 582h7M562 582h10M519 583h13M561 583h11M520 584h13M562 584h10M518 585h7M527 585h5M563 585h9M516 586h9M527 586h1M563 586h8M516 587h13M563 587h7M517 588h12M564 588h3M520 589h9M528 590h1"/>
<path stroke="#000000" d="M606 276h3M606 277h3M606 278h4M606 279h1M608 279h2M713 342h2M712 343h4M719 343h2M712 344h1M715 344h6M713 345h9M713 346h9M710 347h1M713 347h9M709 348h2M712 348h10M709 349h1M712 349h9M709 350h1M712 350h9M712 351h9M710 352h10M710 353h11M711 354h6M718 354h3M713 355h2M719 355h2M612 428h1M605 429h4M605 430h5M606 431h5M608 432h1M631 484h1M638 484h2M631 485h1M638 485h2"/>
</g>
</g>
<path d="M159 427L175 419.500L186 414.500L198.500 409L201 399L210 392" fill="none" stroke="#fff" stroke-width="1.600"/>
<path d="M225 131L228.5 133.5L232 135L236 137L239.5 138.5L242.5 141.5L246.5 143L250 145L254.5 145.5L258.5 146L263 146L267.5 146L271 148L274 151L278 152.5L281.5 155.5L285 157.5L288.5 159.5L291.5 161L295 162.5L298 164.5L301.5 166L305 167.5L309 167L312.5 166L316.5 166L320 165L324.5 166L329 165.5L333 165.5L337.5 166L341 165.5L344.5 164.5L348 163L351.5 162L355 161L359 159L363 156.5L367.5 155L371.5 152L375 149L379 149L383.5 150L387.5 151L391 151.5L395 151L398.5 152.5L402.5 152.5L406 154L409 157L412.5 159L416 162L419.5 165L422.5 168M195 214L198.5 214L202 212.5L205.5 212L209 211L213 212L217 212.5L221 213.5L225 214L226.5 217L229 219.5L231 222.5L234.5 224.5L238.5 225L242.5 226.5L246 228L250 229L253.5 230L257 231L260.5 233L264 234L267.5 235L271.5 237L275 238.5L278.5 241L282.5 242.5L287 243L291 244.5L295.5 245L300 246L304 246L308 247L312 248L316 249L320 249L324 248.5L327.5 247.5L331.5 247.5L335 246L338.5 247.5L342.5 248L346 250L350 251L353.5 252.5L357 253.5L360.5 254L364 255L367.5 256L371.5 254.5L375 253L378.5 250.5L382 248L385 245L388 243.5L391 242.5M423 170L420.5 173.5L417.5 176.5L415 180L412 182L409 185L406 187.5L405 191.5L404.5 196L404 200L400.5 203L398 206.5L395 210L391.5 213L389 217L386 220L386 223.5L385.5 226.5L385 230L386.5 234.5L389 238.5L391 242.5L391.5 246.5L392 250L393 254L394 257.5L394 262L393 266L392.5 270.5L392.5 275L390 278.5L389 282.5L387 286L385 290L383 293.5L380 296L377.5 299.5L375 302.5L373 305.5L370.5 308L367.5 310L365 312.5L363.5 316.5L361.5 320L360 324M406 187L410.5 187L415 187.5L419 189L422.5 191L426 193.5L430 195L434 197L438.5 198L442.5 200L444 203L444.5 206.5L446 210L448 213L450.5 216L452.5 219L456.5 219.5L460 220L460.5 224L461.5 228.5L462.5 232.5L462.5 236.5L463.5 240L464 243.5L464 247.5L468 247L472 246L476 247L480 246L484 246L488.5 245L492.5 245L496 245.5L499.5 247.5L503 248L506.5 248.5L510 250L513.5 249.5L517.5 249L521 248.5L525 249L529 249L533 250L537 251L541 251.5L545 252.5L547.5 255.5L550 258.5L552.5 262L555 265L557.5 268L560.5 271.5L562.5 275L565 277.5L567.5 280L572.5 281L575.5 279L579.5 277.5L582.5 275L583.5 271L584.5 267L585 262.5L586.5 258L588.5 254L591 250L591 246L592.5 241.5L592.5 237.5M182.5 322.5L186 324.5L189.5 325.5L193 326.5L196.5 328L200 330L204 332.5L207.5 335L212 335.5L216 335.5L220.5 335L225 335L229 333L232.5 331L236 330.5L239.5 328.5L243 328L246.5 327.5L250 326L253.5 323.5L256.5 320L260 317.5L264 317.5L267.5 318L271.5 318L275 319L278.5 319L282.5 319L286 317L289 314.5L292.5 312.5L296.5 312L300.5 310.5L304.5 311L308.5 309.5L312.5 309L316 309.5L319.5 311L323 312L326.5 313.5L330 314L334 314.5L338 314.5L342 314.5L346 314.5L350 315L353 318L356.5 321L360 324L359.5 328L358.5 332L358.5 336L357.5 340L356.5 343.5L354.5 347L352.5 350L352 353.5L351 356.5L350 360M350 360.5L348 361L344.5 363L341 365.5L337.5 366L334.5 368L330 371L328 373.5L325 375L321.5 377L318.5 379L315 381L311.5 382.5L307.5 382.5L303.5 384L300 385L297.5 387.5L295 390L290 390.5L285 390L281.5 389L278.5 388L275 387.5L270.5 386L266.5 384.5L262.5 382.5L258.5 383.5L254 384L250 385L246 386L241.5 386.5L237.5 387.5L233 387L229 386L224.5 385.5L220 385L216.5 386.5L213 388L210 390L207 392.5L203.5 395L200 397.5L199.5 401L198 404L197.5 407.5L193.5 409.5L189 411L185 412.5L181.5 414L178.5 416L175 417.5L171 419L167.5 421L163.5 423L160 425M350 360.5L352 361.5L355.5 361.5L359 360.5L363.5 362L366.5 360.5L370 360L373.5 360.5L376.5 362L380.5 361.5L384 362L388 360.5L391 359L394.5 358L397.5 355.5L401 353.5L401.5 349L406 348L410 347L414.5 346L419 346L422.5 345L425.5 343L429 342L432 341L434.5 338.5L439 339L443.5 340L444.5 335.5L449 333.5L449 329.5L450 325.5L454.5 325.5L458 329L461 325.5L465 325.5L468.5 326.5L472 326.5L476.5 325.5L481 324.5L481 321L481 318L485.5 316.5L488 322L491.5 323L495.5 323L499 324.5L502 323.5L505.5 323.5L509.5 323L513 323L516.5 323.5L521 322.5L525.5 322.5L530 323L532.5 320.5L535 317.5L538 315.5L540 312.5L543 309.5L546.5 307.5L550 305L552 301L553 296.5L555 292.5L557.5 289L560.5 286L562.5 282.5L566 282.5L569 282L572.5 281M502.5 324L501 328L500 332L498.5 336L497.5 340L496.5 343.5L496.5 347.5L496 351.5L495 355L496.5 358.5L497 362.5L499 366L500 370L502 373L505 375L507.5 377.5L510 380L513 381.5L515 384L519 383L523 383.5L527 383.5L531 382.5L533 379L535 375.5L537.5 372.5L540.5 370.5L544 369.5L547 367.5L550 366L554 365L557.5 363L561 361L565 360L569.5 360L574 360L578 359.5L582.5 359L586 357.5L589.5 356L593 355L596.5 353.5L600 352.5L603.5 351L606.5 349L610 347.5L613.5 348.5L617 350.5L620 352.5L623.5 354L627 355.5L630.5 356.5L634 357.5L637.5 359L639.5 356L642.5 354L644.5 351L647.5 349L652 351L656 353L660 355L664.5 355L669 355L673 354.5L677.5 355L682 355L686 355L690.5 354.5L695 355L699 355.5L702.5 356L706.5 356.5L710 357.5L713.5 358.5L716.5 358L720 359M531 382.5L527 384.5L523.5 387.5L520 390L517 393L513.5 395L510 397.5L507 400L503.5 402.5L500 404L496.5 405.5L492.5 406.5L489 408.5L485 410L481 411.5L477.5 413.5L473.5 415.5L470 417.5L466.5 418L462.5 419L458.5 419L455 420L451.5 423L447.5 425L443.5 426L439 427L435 427.5L431 428L426.5 428L422.5 429L419.5 431.5L416 433L412.5 435L408.5 435.5L404 434.5L400 435L396 432.5L392.5 430L388.5 429L384 428L380 427.5L375 425L373 429L371.5 433.5L370 437.5L366 436.5L362.5 435L361 431.5L359 428.5L357.5 425L355 422.5L352 420L350 417L347.5 414L343 413L339 411.5L334.5 410.5L330 410L328.5 405.5L327.5 401L323.5 401L319 400L315 399L311.5 397L307.5 396L304 394L300 392.5L297.5 391M297.5 392.5L295 395.5L292 398L290 401.5L287.5 404.5L285 407.5L282 410.5L280 414L277 417L274 420L276 423.5L278 426.5L280 430L281.5 433.5L283.5 436.5L286 439L288 442L290 445L293 448.5L295 452.5L293.5 456.5L292 460.5L291 465L293 469L296 472.5L298 476L300 480L301 484L302.5 487.5M157.5 475L162 474.5L166 473.5L170 472.5L173.5 471.5L177 470L180.5 468.5L184 467.5L187.5 466L191 468L193.5 470.5L197 472.5L200 475L204 475.5L208 476.5L212 477L216 477.5L220 479L224.5 480L229 480.5L233 482L237.5 482.5L242 482L246.5 482L250.5 481.5L255 481L259.5 480L264 479.5L268 479L272.5 477.5L276.5 479L280.5 481L285 482.5L288.5 483.5L292 484.5L295.5 485.5L299 487L302.5 487.5M302.5 487.5L306.5 487.5L310.5 488L314.5 488.5L318 489L322 489.5L326 489L330 490L333.5 488L336.5 485.5L339 482.5L342.5 480L346 478.5L350 477.5L354 476.5L357.5 475L361 475.5L364.5 477L368 478L371.5 479.5L375 480M367.5 437.5L369 441.5L369.5 446L371 450L371.5 454L373.5 457.5L374.5 461L375 465L375.5 469L375.5 473L377 477L377 481L377.5 485L377 489L377.5 493L376 497L375.5 501L376 505L376.5 509.5L377 514L378 518L379 522.5L379.5 526L379.5 529L380 532.5L379 536L379 539.5L379.5 543L379 546.5L376 550L373 553L370 555.5L370 559.5L371 563L371 566.5L375 568.5L378.5 571L382 573.5L386.2 569.5M302.5 487.5L305.5 490.5L308 494L310 497.5L312.5 501.5L314 506L311 508L308 510.5L305 512.5L302 516L300 520L300.5 524L301 528.5L301 532.5L300 537L297.5 541M380 532.5L383.5 532.5L386.5 531L390 531L394 530.5L398.5 530.5L402.5 530L405 527.5L407.5 525L410 522.5L412.5 520L416.5 520L421 520.5L425 520L429 520.5L432.5 521.5L436 522.5L439.5 520.5L443 519.5L446.5 517.5L450 516L453.5 515.5L457 516L460.5 515.5L464 515M520 392.5L520 396L520 400L520 404L520 407.5L519 411L519.5 415L518.5 419L517.5 422.5L518 426.5L519 430L516 432.5L513 435.5L510 437.5L507 440.5L504 444L500.5 447L497 449.5L494 452.5L496 455.5L497.5 459L499 462.5L498 466L497 470L495.5 473.5L495 477.5L492.5 480L491 483.5L489.5 486.5L487 489.5L485 492.5L481.5 494.5L479 497L476 499L474 503L472.5 507.5L470 510.5L467 513L464 515M464 515L465.5 518L466 522L467.5 525L469 529L471.5 532.5L474 536L474 540L474 543.5L474 547.5L477 550L480 552.5L480.5 557L481 561L483 565.5L485 570L484.5 573.5L484 577.5L487 579.5L490 582M481 561L485 561L489 560L493.5 560.5L497.5 560L500 557.5L502.5 555L505 552.5L509 551L513 549.5L517 548L521 546L525 545L528.5 544L532.5 543L535.5 541L539 539.5L543 539L546.5 537.5L550 536L551.5 532L552.5 528L553.5 524L555 520L556.5 516.5L558 513L560.5 509.5L561.5 506L563.5 502.5L565 499L569 498.5L573 496.5L577.5 496L579 492.5L580.5 489L582.5 486L586.5 485.5L590 484M590 484L589.5 488L590 492L591 496L591 500L591 504.5L590.5 508.5L591 513L590 517.5L589 521L588 525L588 529L587.5 532.5L584.5 535.5L582.5 539L584.5 542L585.5 546L587 549L589 552.5L588 556.5L586.5 561L585 565L585 568.5L585 572L585 575.5L585 579M590 484L592 481.5L593.5 478L595 475L597 472L598 468L600 465L601 461.5L600.5 457.5L602 454L602.5 450L605.5 447.5L609 446.5L612 445L615 442.5L616.5 439L618.5 436.5L620 433M519 422.5L522 421.5L525 420L529 419.5L532.5 420L536 421L540 421L543.5 420L547 419.5L550.5 418.5L554 417.5L558 420L561 423.5L565 426L568.5 426.5L571.5 426.5L575 427.5L579 428.5L582.5 429L586.5 430L590 431L592.5 428.5L595 426L597.5 424L601.5 423.5L606 422.5L610 422.5L613 424.5L614.5 428L618 429.5L620 432.5L623.5 431.5L627.5 431.5L631 431L635 431L638.5 429.5L641.5 427L644.5 425L647.5 422.5L650.5 420L654 418L657 415L660 412.5L663 409.5L667 408L670 405L674 404L677.5 403L681 401.5L685 401M376.5 585.5L380 583.5L383.5 581L384 577L386 573L386.5 569L390 571.5L393.5 574.5L397 575L401 575.5L405.5 573.5L410 571L411.5 574L413.5 576.5L419 576.5L419 581L419 585L418.5 589" fill="none" stroke="#000" stroke-width="1" stroke-linejoin="round" shape-rendering="crispEdges"/>
<path d="M241 75L243.5 74L245 72L248 73.5L251 75L251 78L252.5 81L255 82L257.5 81.5L260 82.5L263 84L266.5 84L270 84L273 83.5L276 81.5L279 81L281.5 82L284 83L286 84L289 83L291.5 81L294 79L295.5 76L296 73L297.5 70L299.5 67.5L302.5 65.5L305 63.5L308.5 62.5L311.5 63.5L315 62.5L318 63L321 63.5L324 62.5L326.5 64L329.5 64L332.5 63.5L334.5 66L337.5 67L339.5 69.5L342 71L344.5 72L347 73.5L349.5 75.5L351 78L352.5 80.5L354.5 83L357 84.5L359.5 86.5L362 88.5L364.5 90.5L367 92.5L369.5 94.5L372 96L374.5 98.5L376.5 101L378.5 103L380 105.5L382.5 107.5L384.5 109.5L387 112L389.5 113.5L393 114.5L395 117L398.5 118L399.5 121L402 123L404 125.5L405.5 128L407.5 130L410.5 131L412.5 133L415 134.5L417 136.5L418.5 139.5L420.5 141.5L422.5 144L424.5 146L423.5 149L423.5 152L423 154.5L422.5 157.5L423.5 160.5L424 163.5L423.5 167L424 170L427 170.5L429.5 171.5L432.5 172L435 171.5L437.5 170L440 168.5L442.5 167.5L445 166L447.5 164L449.5 161.5L452.5 160.5L455 159L457.5 157L460 156L462.5 155L463.5 152L463 149L464 146L466.5 145L469 146L471.5 147.5L473.5 149.5L475 152L477.5 154L479.5 156.5L481 158.5L483.5 161L485.5 162.5L487.5 165L489.5 167.5L493 168.5L495 171L497 173L498 175.5L498.5 178.5L500 181L501.5 183.5L503.5 185.5L504.5 188L506.5 190L507.5 192.5L510.5 194L513.5 194.5L516.5 195.5L519.5 196.5L522 198L525 199L527.5 197.5L529.5 195.5L532.5 195L535 197L535.5 200.5L537.5 203L540 205L542.5 206.5L545 207L547 209.5L550 210.5L552.5 211L555.5 211.5L558.5 211.5L561.5 211.5L564 211.5L567 213L570 212.5L573 213L576 213.5L579 214.5L582 215.5L585 216L587.5 218L588 221.5L590.5 224L592.5 226L594 228.5L596 230.5L597.5 232.5L595 235L592.5 237.5L595 239L597.5 240L600.5 240.5L602.5 242.5L605 244L608 244.5L610 246.5L612.5 248L615.5 249L617.5 251L620.5 252L622.5 254.5L625.5 255.5L627 258L630 259.5L632.5 260.5L635 262.5L638 262L641 261L643.5 262L645 265L647.5 266L650 267.5L652.5 269L655.5 269L657.5 271L660 272.5L661.5 275L662.5 278L665 280L668 281L671 281.5L674 282.5L675 285L675.5 288L676 291L677.5 294L679.5 296.5L681.5 299L682.5 302.5L682.5 305.5L683 309L685 311.5L685 315L687 317L689.5 318.5L691 321L693.5 322.5L695 325L698 325.5L701 326L704 326L704.5 329L707 331.5L707.5 335L710 336.5L712.5 336L715 337.5L718 337.5L720.5 339L723.5 339L726 340L728 342L730 343.5L733 344L735 346L733.5 349L734 352.5L731.5 354L728 355L725.5 356.5L722.5 357.5L721.5 361L723 364L722.5 367.5L722 370.5L720.5 372.5L719 375L716 374.5L713 375L710.5 375.5L707.5 376L705 377L702.5 378.5L700.5 381L698.5 382.5L696 384L693.5 385.5L691.5 387.5L690 389.5L687.5 391L689.5 394L690 397.5L687 399L684 401L686 404L686.5 407.5L689 410L690.5 412.5L691 415L691.5 418L690 421L691 424.5L690 427.5L691.5 430.5L692 434L692.5 437L694 440L695 443L695.5 446.5L696 450L696 453.5L696 457L697.5 460L700.5 461L703.5 462L707 463L709.5 464.5L712.5 466L711 468.5L708 470.5L706.5 473L704 475L702.5 477.5L700.5 480L699 482.5L697.5 485L697.5 488L695.5 491L695 494.5L695 497.5L692.5 499L691.5 502L689.5 504L686.5 505L685 507.5L682.5 510L680 512L677.5 514L675 516L673.5 518L671.5 520L671 523L669 525L667.5 528L667.5 531L670 533L671 536L668 537L665.5 538.5L663 540.5L660 541L658 543L655 543.5L652 544L650 546L647.5 547.5L644.5 548.5L642 550L640 552L637 553L635 555L634 558L632 560L629 561.5L627.5 564L626 567.5L622.5 567.5L619.5 569L616.5 569L613 569.5L610 570L607 570.5L604 572L601.5 573L598.5 574L595.5 575L592.5 576L590 577L587 578L585 580L582.5 581.5L580 583L577.5 583.5L575 585L572 585.5L569.5 587.5L566.5 588.5L563.5 589L560.5 590.5L557.5 591L554 591.5L551.5 594L548.5 595.5L545 596L542.5 597.5L541 600L537.5 599L534.5 598L532.5 596L529.5 594.5L527.5 592.5L524.5 593L521 593.5L518 593.5L515 592.5L512 593.5L508.5 594.5L505 594L502.5 591.5L500 589L497.5 587L495 586L492.5 584L490 583.5L487.5 582L485 581L482 580L479 580L476 581L473 581L470 580L467 580.5L464 580L461 579.5L458 579.5L455 579L452 580L449 579.5L445.5 579.5L442.5 580L439.5 582L436 582L433.5 584.5L430 585L427 585.5L425.5 588L422 588L420 590L417.5 590L414.5 591L412.5 592.5L409.5 593.5L407 595.5L405 597.5L402.5 596L400 595L397 594L393.5 594.5L390.5 593L387.5 592.5L385 590.5L383 588L380 587L377.5 585L376 582L375 579L372 578.5L368.5 578.5L365.5 578.5L362.5 577.5L360 576.5L357.5 576L355 575.5L352.5 574L349.5 573.5L346 572.5L343 572L340 571L337 570.5L334 569L330.5 568.5L327.5 567.5L325.5 564.5L323 562.5L320 561L317.5 559.5L315 558L312.5 555.5L310 554L308.5 551.5L306.5 550L305 547.5L302.5 546L300 544L297.5 542.5L294.5 542.5L291.5 543L288.5 542L285.5 543L282.5 542.5L279.5 542L276.5 541.5L273.5 542.5L270.5 541L267.5 541L264.5 542L261 541.5L258 543L255 542.5L251.5 541.5L248.5 543L245 542.5L241.5 542.5L238 543.5L235 545L232 545L229 545L226 545L223 545L220 546L217 544.5L215 542.5L214.5 539L214 536L212 534.5L211 531.5L208.5 530L207.5 527.5L205 525.5L202.5 523.5L200 522L197.5 520L196 518L194.5 515.5L192.5 514L189.5 512.5L186 512.5L183 511.5L180 511L179.5 507.5L177.5 505L175 503L173 501L171.5 498.5L170 496L167 494L164 493L161 491L159 487.5L158.5 484L157.5 481L155.5 478L155 475L155.5 472L155 469L154 466.5L154 463.5L154 460.5L154 457.5L153.5 454.5L154 451L155.5 448L155 445L156 442.5L157 440L158.5 437.5L159 435L158.5 431.5L159 428L157.5 425L160 423L162 420L164 417.5L163.5 414.5L164 411L163.5 408L162.5 405L164.5 403L164 399.5L166 397.5L169 397.5L171.5 396.5L174.5 395.5L177 395.5L180 395L182 393L183.5 390.5L186 389L188.5 387.5L190 385L190 382L190.5 379L190.5 376L190.5 373L191 370L191 367L190.5 364L189 361.5L190 358.5L189 355.5L187.5 353L187.5 350L187.5 347L185.5 344L186.5 340.5L185 337.5L184 334.5L183 331L180.5 328.5L180 325L181 322L180 319L181 316L183.5 314L185.5 312.5L189 312L191 310L190 306.5L191 303.5L190 300L189 297.5L187 295.5L185.5 293L184.5 290.5L184 287.5L185 284.5L186.5 281.5L186 278L187.5 275L187 271.5L184 269.5L184 266L183 262.5L181 260L183.5 258.5L185.5 257L187.5 255L190 253.5L191 250.5L193.5 249L196 247.5L196.5 244.5L198 241.5L199.5 239L200.5 236L202 233L202.5 230L201 227.5L201 225L200 222.5L197.5 220.5L195.5 218L194 215L196.5 213.5L199 212L200.5 209.5L202.5 207.5L202.5 204.5L204.5 202.5L204.5 199.5L206 197.5L208 195.5L209 192.5L209 189.5L211 187.5L210.5 184.5L211 181L213 178L212.5 175L213.5 172.5L215.5 170L216.5 167.5L217.5 165L216 162.5L213.5 160.5L212.5 157.5L215 156.5L216 154L218.5 153.5L221.5 154L224 154L224.5 151L224.5 148L225 145L224 142L224.5 139L224.5 136L225 133L225 130L223 128L221 125.5L220 122.5L218 120.5L216.5 118.5L215 116L215 112.5L215 109L217.5 107.5L220 106L222.5 104L225 102.5L227.5 100.5L229.5 98.5L232.5 97.5L235 95.5L237.5 94L238.5 91.5L240.5 89.5L242.5 87L244 85L242.5 82L242 78.5Z" fill="none" stroke="#000" stroke-width="2.3" stroke-linejoin="round" shape-rendering="crispEdges"/>
<path d="M179.500 397L188 388.500L194.500 379L197.200 373.500" fill="none" stroke="#000" stroke-width="2.800" stroke-linecap="round"/>
<g fill="#000"><circle cx="431" cy="599" r="1.2"/><circle cx="546" cy="607" r="1.2"/><circle cx="161" cy="492" r="1.5"/><circle cx="251.500" cy="548.500" r="1.5"/><circle cx="701" cy="487" r="1.2"/></g>

<g id="fao-logo" font-family="Liberation Sans, Arial, sans-serif" font-weight="bold" fill="#111">
<circle cx="701" cy="759.2" r="26.700" fill="#fff" stroke="#111" stroke-width="3.4"/>
<path d="M685.200 740L699.700 768.5M716.800 740L702.300 768.5" fill="none" stroke="#111" stroke-width="1.5"/>
<path d="M688.400 738.3L700.900 763.500L713.600 738.3" fill="none" stroke="#111" stroke-width="1.4"/>
<path d="M691.3 738.2L697.200 751M710.700 738.2L704.800 751" fill="none" stroke="#111" stroke-width="1.3"/>
<path d="M701 746.5C698.500 749 696 752 695.700 756C695.500 760 698 764 701 766.5C704 764 706.500 760 706.300 756C706 752 703.500 749 701 746.500Z"/>
<ellipse cx="701" cy="768.600" rx="6.800" ry="5.2"/>
<path d="M695.200 757.200L701 763L706.800 757.200M694 763.800L701 770.300L708 763.800" fill="none" stroke="#fff" stroke-width=".8"/>
<path d="M701 748.200C700 750 698.900 751.400 698.900 752.700A2.100 2.100 0 0 0 703.100 752.700C703.100 751.400 702 750 701 748.200Z" stroke="#fff" stroke-width=".6"/>
<path d="M701 772V785.500" fill="none" stroke="#111" stroke-width="1.700"/>
<text x="678.400" y="761.300" font-size="15.5">F</text>
<text x="695.900" y="748.400" font-size="15" textLength="10.2" lengthAdjust="spacingAndGlyphs">A</text>
<text x="714.200" y="761.300" font-size="15.5" textLength="10.2" lengthAdjust="spacingAndGlyphs">O</text>
<path id="fiatarc" d="M677.700 759.2A23.300 23.300 0 0 0 724.3 759.2" fill="none"/>
<text font-size="6.200" letter-spacing="2.500"><textPath href="#fiatarc" startOffset="9.600">FIAT</textPath></text>
<text font-size="6.200" letter-spacing="1.300"><textPath href="#fiatarc" startOffset="41">PANIS</textPath></text>
</g>

</svg>
<div class="t h1">Uruguay</div>
<div class="t ln" style="top:657.500px;font-weight:bold;font-size:18.2px">Agricultural Stress Index (ASI)</div>
<div class="t ln" style="top:688px">% of grassland area affected by severe drought</div>
<div class="t ln" style="top:718px">per GAUL 2 region</div>
<div class="t ln" style="top:747.500px">from    : start of SEASON 2</div>
<div class="t ln" style="top:777.500px">to      : dekad 1 August 2025</div>
<div class="t ln" style="top:837.500px">METOP-AVHRR</div>
<div class="t ln" style="top:867.500px">WGS84, Geographic Lat/Lon</div>

<div class="t" style="left:470px;top:652.9px;font-size:14.2px;font-weight:bold;text-decoration:underline;text-decoration-skip-ink:none;text-underline-offset:1.3px;text-decoration-thickness:1px">ASI (%)</div>
<div class="sw" style="top:671px;background:#32c814"></div><div class="t lg n" style="top:674.6px">&lt; 10</div>
<div class="sw" style="top:688px;background:#96e61e"></div><div class="t lg n" style="top:691.6px">10 - 25</div>
<div class="sw" style="top:705px;background:#ffff32"></div><div class="t lg n" style="top:708.6px">25 - 40</div>
<div class="sw" style="top:722px;background:#ffb428"></div><div class="t lg n" style="top:725.6px">40 - 55</div>
<div class="sw" style="top:739px;background:#ff7814"></div><div class="t lg n" style="top:742.6px">55 - 70</div>
<div class="sw" style="top:756px;background:#ff2d0f"></div><div class="t lg n" style="top:759.6px">70 - 85</div>
<div class="sw" style="top:773px;background:#be0000"></div><div class="t lg n" style="top:776.6px">&gt;= 85</div>
<div class="sw" style="top:801px;background:#6666ff"></div><div class="t lg" style="top:804.5px">off season</div>
<div class="sw" style="top:818px;background:#000"></div><div class="t lg" style="top:821.5px">no data</div>
<div class="sw" style="top:835px;background:#666"></div><div class="t lg" style="top:838.5px">no season 2</div>
<div class="sw" style="top:852px;background:#cbcbcb"></div><div class="t lg" style="top:855.5px">no grassland</div>

<div class="t fao" style="top:734.2px">Food and Agriculture</div>
<div class="t fao" style="top:752.1px;transform:scaleX(.876)">Organization of the</div>
<div class="t fao" style="top:769.5px;transform:scaleX(.866)">United Nations</div>
<div style="position:absolute;left:672px;top:801px;width:216px;height:2px;background:#1a1a1a"></div>
<div class="t gi" style="top:813.600px">Global Information and Early</div>
<div class="t gi" style="top:832.500px;transform:scaleX(.8935)">Warning System – GIEWS</div>

<div class="t dis" style="top:910.400px">Disclaimer: The boundaries and names shown and the designations used on this map do not imply the expression of any opinion whatsoever on the part of FAO</div>
<div class="t dis" style="top:924.900px;letter-spacing:.542px">concerning the legal status of any country, territory, area or of its authorities, or concerning the delimitation of its frontiers and boundaries.</div>
</body>
</html>
